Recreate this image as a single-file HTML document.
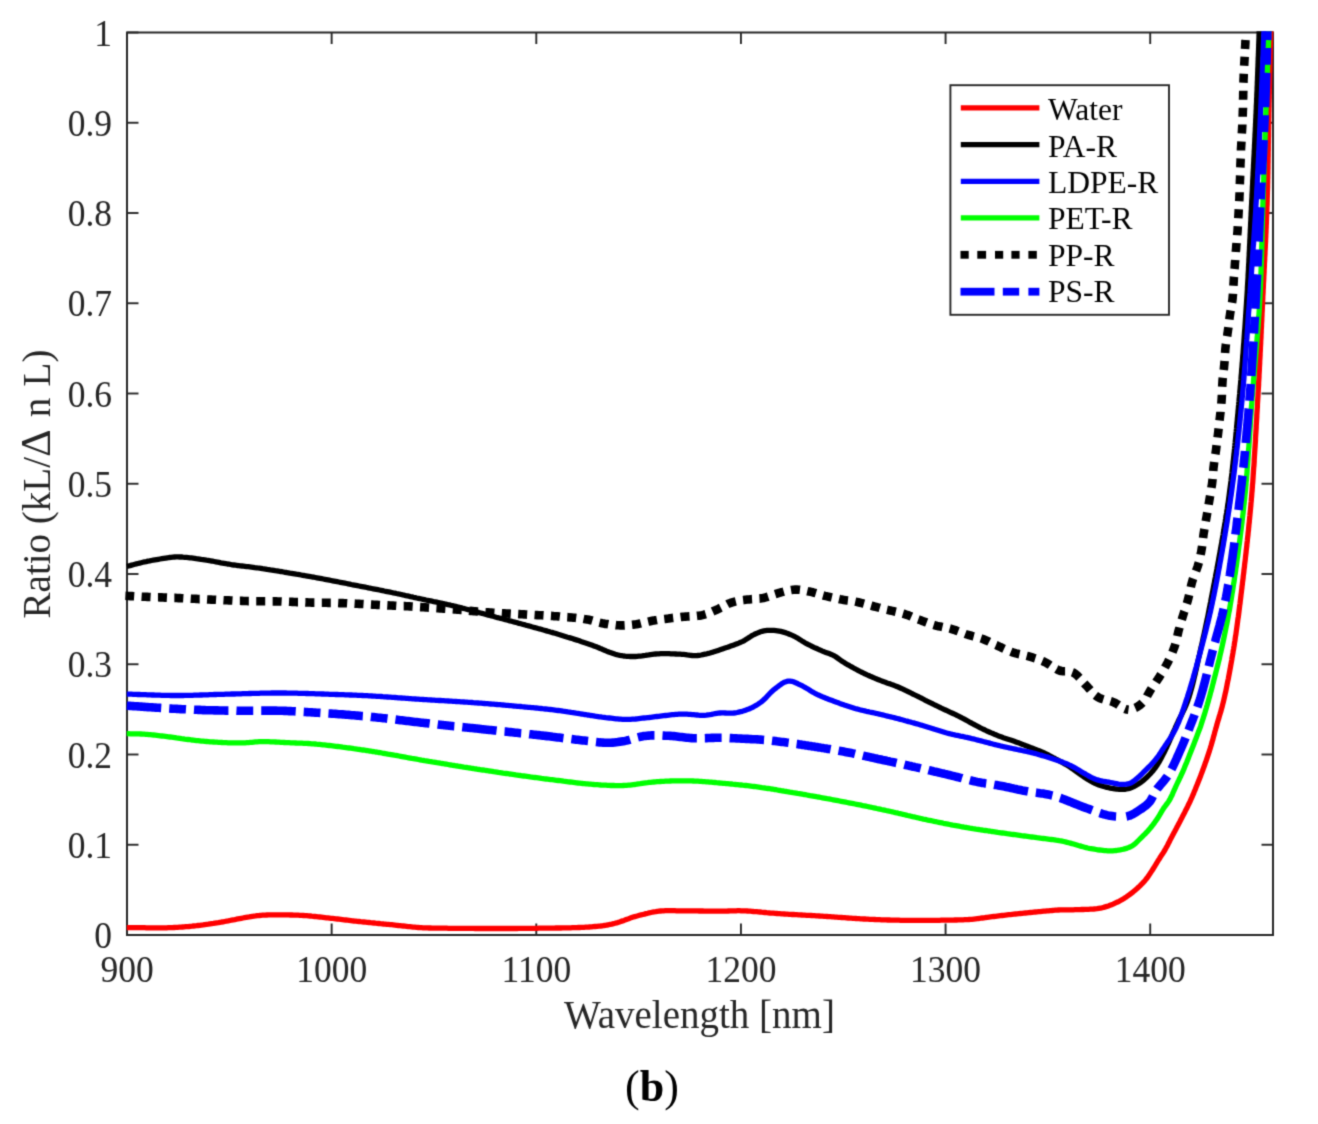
<!DOCTYPE html>
<html><head><meta charset="utf-8"><style>
html,body{margin:0;padding:0;background:#fff;overflow:hidden;width:1318px;height:1124px;}
svg{display:block;}
.t{font-family:"Liberation Serif",serif;font-size:35.5px;fill:#262626;}
.l{font-family:"Liberation Serif",serif;font-size:39px;fill:#262626;}
.g{font-family:"Liberation Serif",serif;font-size:32px;fill:#000;}
.c{font-family:"Liberation Serif",serif;font-size:44px;fill:#000;}
</style></head><body>
<svg width="1318" height="1124" viewBox="0 0 1318 1124">
<defs><filter id="bl" x="0" y="0" width="1318" height="1124" filterUnits="userSpaceOnUse" color-interpolation-filters="sRGB"><feConvolveMatrix order="3" kernelMatrix="0.02768 0.11101 0.02768 0.11101 0.44521 0.11101 0.02768 0.11101 0.02768" edgeMode="duplicate" preserveAlpha="true"/></filter><clipPath id="cp"><rect x="125.2" y="31.3" width="1149.0" height="904.9"/></clipPath></defs>
<g filter="url(#bl)"><rect x="0" y="0" width="1318" height="1124" fill="#fff"/>
<rect x="127.0" y="32.5" width="1146.0" height="902.5" fill="none" stroke="#262626" stroke-width="2"/>
<line x1="127.0" y1="935.00" x2="138.5" y2="935.00" stroke="#262626" stroke-width="1.9"/>
<line x1="1273.0" y1="935.00" x2="1261.5" y2="935.00" stroke="#262626" stroke-width="1.9"/>
<line x1="127.0" y1="844.75" x2="138.5" y2="844.75" stroke="#262626" stroke-width="1.9"/>
<line x1="1273.0" y1="844.75" x2="1261.5" y2="844.75" stroke="#262626" stroke-width="1.9"/>
<line x1="127.0" y1="754.50" x2="138.5" y2="754.50" stroke="#262626" stroke-width="1.9"/>
<line x1="1273.0" y1="754.50" x2="1261.5" y2="754.50" stroke="#262626" stroke-width="1.9"/>
<line x1="127.0" y1="664.25" x2="138.5" y2="664.25" stroke="#262626" stroke-width="1.9"/>
<line x1="1273.0" y1="664.25" x2="1261.5" y2="664.25" stroke="#262626" stroke-width="1.9"/>
<line x1="127.0" y1="574.00" x2="138.5" y2="574.00" stroke="#262626" stroke-width="1.9"/>
<line x1="1273.0" y1="574.00" x2="1261.5" y2="574.00" stroke="#262626" stroke-width="1.9"/>
<line x1="127.0" y1="483.75" x2="138.5" y2="483.75" stroke="#262626" stroke-width="1.9"/>
<line x1="1273.0" y1="483.75" x2="1261.5" y2="483.75" stroke="#262626" stroke-width="1.9"/>
<line x1="127.0" y1="393.50" x2="138.5" y2="393.50" stroke="#262626" stroke-width="1.9"/>
<line x1="1273.0" y1="393.50" x2="1261.5" y2="393.50" stroke="#262626" stroke-width="1.9"/>
<line x1="127.0" y1="303.25" x2="138.5" y2="303.25" stroke="#262626" stroke-width="1.9"/>
<line x1="1273.0" y1="303.25" x2="1261.5" y2="303.25" stroke="#262626" stroke-width="1.9"/>
<line x1="127.0" y1="213.00" x2="138.5" y2="213.00" stroke="#262626" stroke-width="1.9"/>
<line x1="1273.0" y1="213.00" x2="1261.5" y2="213.00" stroke="#262626" stroke-width="1.9"/>
<line x1="127.0" y1="122.75" x2="138.5" y2="122.75" stroke="#262626" stroke-width="1.9"/>
<line x1="1273.0" y1="122.75" x2="1261.5" y2="122.75" stroke="#262626" stroke-width="1.9"/>
<line x1="127.0" y1="32.50" x2="138.5" y2="32.50" stroke="#262626" stroke-width="1.9"/>
<line x1="1273.0" y1="32.50" x2="1261.5" y2="32.50" stroke="#262626" stroke-width="1.9"/>
<line x1="127.00" y1="935.0" x2="127.00" y2="923.5" stroke="#262626" stroke-width="1.9"/>
<line x1="127.00" y1="32.5" x2="127.00" y2="44.0" stroke="#262626" stroke-width="1.9"/>
<line x1="331.64" y1="935.0" x2="331.64" y2="923.5" stroke="#262626" stroke-width="1.9"/>
<line x1="331.64" y1="32.5" x2="331.64" y2="44.0" stroke="#262626" stroke-width="1.9"/>
<line x1="536.29" y1="935.0" x2="536.29" y2="923.5" stroke="#262626" stroke-width="1.9"/>
<line x1="536.29" y1="32.5" x2="536.29" y2="44.0" stroke="#262626" stroke-width="1.9"/>
<line x1="740.93" y1="935.0" x2="740.93" y2="923.5" stroke="#262626" stroke-width="1.9"/>
<line x1="740.93" y1="32.5" x2="740.93" y2="44.0" stroke="#262626" stroke-width="1.9"/>
<line x1="945.57" y1="935.0" x2="945.57" y2="923.5" stroke="#262626" stroke-width="1.9"/>
<line x1="945.57" y1="32.5" x2="945.57" y2="44.0" stroke="#262626" stroke-width="1.9"/>
<line x1="1150.21" y1="935.0" x2="1150.21" y2="923.5" stroke="#262626" stroke-width="1.9"/>
<line x1="1150.21" y1="32.5" x2="1150.21" y2="44.0" stroke="#262626" stroke-width="1.9"/>
<g clip-path="url(#cp)" fill="none" stroke-linejoin="round">
<path d="M126.8,927.6 L128.4,927.6 L130.0,927.6 L131.6,927.6 L133.2,927.6 L134.8,927.6 L136.4,927.7 L138.1,927.7 L139.7,927.7 L141.3,927.7 L143.0,927.7 L144.6,927.7 L146.3,927.8 L147.9,927.8 L149.5,927.8 L151.1,927.8 L152.8,927.8 L154.4,927.8 L156.0,927.8 L157.5,927.8 L159.1,927.8 L160.7,927.8 L162.2,927.8 L163.7,927.8 L165.2,927.8 L166.7,927.8 L168.2,927.7 L169.6,927.7 L171.0,927.7 L172.4,927.6 L174.2,927.5 L175.9,927.4 L177.7,927.3 L179.3,927.2 L181.0,927.1 L182.6,927.0 L184.2,926.9 L185.8,926.7 L187.4,926.6 L188.9,926.5 L190.4,926.3 L192.0,926.2 L193.5,926.0 L195.1,925.8 L196.6,925.7 L198.1,925.5 L199.7,925.3 L201.4,925.1 L203.1,924.9 L204.8,924.6 L206.6,924.4 L208.3,924.2 L210.0,923.9 L211.7,923.6 L213.4,923.4 L215.0,923.1 L216.7,922.8 L218.4,922.6 L220.0,922.3 L221.6,922.0 L223.2,921.8 L224.7,921.5 L226.5,921.2 L228.2,920.9 L229.9,920.5 L231.5,920.2 L233.2,919.9 L234.8,919.6 L236.4,919.2 L238.0,918.9 L239.6,918.6 L241.3,918.3 L242.9,918.0 L244.5,917.7 L246.1,917.4 L247.7,917.1 L249.2,916.9 L250.8,916.6 L252.4,916.3 L254.0,916.1 L255.6,915.9 L257.4,915.6 L259.2,915.5 L261.1,915.3 L262.4,915.2 L263.8,915.1 L265.3,915.1 L266.8,915.0 L268.4,914.9 L269.9,914.9 L271.6,914.9 L273.2,914.8 L274.9,914.8 L276.6,914.8 L278.3,914.8 L280.1,914.8 L281.8,914.8 L283.5,914.8 L285.3,914.9 L287.0,914.9 L288.7,914.9 L290.4,915.0 L292.0,915.0 L293.7,915.1 L295.3,915.1 L296.8,915.2 L298.3,915.2 L299.8,915.3 L301.6,915.4 L303.4,915.5 L305.1,915.6 L306.8,915.7 L308.4,915.9 L310.1,916.0 L311.7,916.2 L313.3,916.3 L314.8,916.5 L316.5,916.7 L318.1,916.9 L319.7,917.0 L321.4,917.2 L323.1,917.4 L324.9,917.6 L326.4,917.8 L327.9,917.9 L329.5,918.1 L331.1,918.3 L332.7,918.4 L334.3,918.6 L335.9,918.8 L337.5,919.0 L339.1,919.2 L340.8,919.4 L342.4,919.6 L344.1,919.8 L345.8,920.0 L347.4,920.2 L349.1,920.4 L350.8,920.6 L352.4,920.8 L354.1,921.0 L355.7,921.1 L357.4,921.3 L359.0,921.5 L360.6,921.7 L362.3,921.8 L363.9,922.0 L365.6,922.2 L367.2,922.4 L368.9,922.5 L370.5,922.7 L372.2,922.8 L373.9,923.0 L375.5,923.2 L377.2,923.3 L378.8,923.5 L380.5,923.7 L382.1,923.8 L383.7,924.0 L385.3,924.1 L386.9,924.3 L388.5,924.4 L390.1,924.6 L391.7,924.7 L393.2,924.9 L395.0,925.1 L396.7,925.3 L398.4,925.5 L400.1,925.6 L401.7,925.8 L403.3,926.0 L405.0,926.2 L406.6,926.4 L408.2,926.6 L409.9,926.7 L411.5,926.9 L413.1,927.1 L414.8,927.2 L416.5,927.4 L418.2,927.5 L420.0,927.6 L421.5,927.7 L423.0,927.8 L424.5,927.8 L426.0,927.9 L427.5,927.9 L429.0,928.0 L430.5,928.0 L432.0,928.1 L433.6,928.1 L435.1,928.1 L436.7,928.1 L438.3,928.2 L439.9,928.2 L441.5,928.2 L443.2,928.2 L444.9,928.2 L446.7,928.2 L448.4,928.3 L450.3,928.3 L452.2,928.3 L454.1,928.3 L455.3,928.3 L456.6,928.3 L457.9,928.3 L459.2,928.3 L460.5,928.4 L461.9,928.4 L463.2,928.4 L464.6,928.4 L466.1,928.4 L467.5,928.4 L469.0,928.4 L470.5,928.4 L472.0,928.4 L473.5,928.4 L475.0,928.5 L476.6,928.5 L478.1,928.5 L479.7,928.5 L481.3,928.5 L482.9,928.5 L484.5,928.5 L486.1,928.5 L487.7,928.5 L489.3,928.5 L491.0,928.5 L492.6,928.5 L494.2,928.5 L495.9,928.5 L497.5,928.5 L499.2,928.5 L500.8,928.5 L502.5,928.5 L504.1,928.5 L505.8,928.5 L507.4,928.5 L509.1,928.5 L510.7,928.5 L512.3,928.5 L513.9,928.5 L515.5,928.5 L517.1,928.5 L518.7,928.4 L520.3,928.4 L521.9,928.4 L523.4,928.4 L524.9,928.4 L526.5,928.4 L528.0,928.4 L529.5,928.4 L530.9,928.3 L532.4,928.3 L533.8,928.3 L535.5,928.3 L537.2,928.3 L538.9,928.2 L540.6,928.2 L542.3,928.2 L544.0,928.2 L545.7,928.2 L547.4,928.1 L549.1,928.1 L550.8,928.1 L552.5,928.1 L554.2,928.1 L555.9,928.0 L557.6,928.0 L559.3,928.0 L560.9,928.0 L562.6,927.9 L564.2,927.9 L565.9,927.9 L567.5,927.8 L569.1,927.8 L570.7,927.8 L572.3,927.7 L573.8,927.7 L575.4,927.6 L576.9,927.6 L578.4,927.5 L579.8,927.5 L581.3,927.4 L582.7,927.3 L584.1,927.3 L585.5,927.2 L586.8,927.1 L588.1,927.1 L589.4,927.0 L590.6,926.9 L591.8,926.8 L593.0,926.7 L595.1,926.5 L597.0,926.3 L598.9,926.1 L600.6,926.0 L602.3,925.8 L603.9,925.5 L605.5,925.3 L607.0,925.0 L608.6,924.8 L610.2,924.4 L611.8,924.1 L613.5,923.7 L615.0,923.3 L616.5,922.9 L618.0,922.4 L619.5,922.0 L621.0,921.4 L622.6,920.9 L624.1,920.4 L625.6,919.8 L627.1,919.2 L628.7,918.7 L630.2,918.1 L631.7,917.6 L633.2,917.1 L634.8,916.6 L636.3,916.2 L637.9,915.8 L639.5,915.3 L641.1,914.9 L642.8,914.5 L644.4,914.1 L646.0,913.6 L647.6,913.3 L649.2,912.9 L650.9,912.5 L652.5,912.2 L654.1,911.9 L655.7,911.7 L657.4,911.4 L659.0,911.2 L660.6,911.0 L662.2,910.9 L663.8,910.8 L665.3,910.7 L666.9,910.7 L668.4,910.7 L670.0,910.7 L671.6,910.7 L673.2,910.7 L674.8,910.7 L676.5,910.8 L678.2,910.8 L680.0,910.8 L681.8,910.8 L683.2,910.8 L684.7,910.8 L686.2,910.8 L687.7,910.8 L689.3,910.8 L690.9,910.9 L692.5,910.9 L694.2,910.9 L695.8,910.9 L697.5,910.9 L699.2,911.0 L700.9,911.0 L702.6,911.0 L704.3,911.1 L706.0,911.1 L707.6,911.1 L709.3,911.1 L710.9,911.1 L712.5,911.2 L714.1,911.2 L715.6,911.2 L717.1,911.2 L718.6,911.2 L720.0,911.2 L721.8,911.2 L723.5,911.2 L725.2,911.1 L726.8,911.1 L728.4,911.0 L729.9,910.9 L731.5,910.9 L733.0,910.8 L734.6,910.8 L736.1,910.8 L737.7,910.7 L739.4,910.7 L741.0,910.8 L742.8,910.8 L744.3,910.9 L745.8,910.9 L747.3,911.0 L748.8,911.1 L750.3,911.2 L751.9,911.3 L753.5,911.5 L755.1,911.6 L756.7,911.7 L758.3,911.9 L759.9,912.0 L761.6,912.2 L763.2,912.3 L764.9,912.5 L766.6,912.7 L768.3,912.8 L770.0,913.0 L771.7,913.1 L773.4,913.2 L775.2,913.4 L776.9,913.5 L778.4,913.6 L779.8,913.7 L781.3,913.8 L782.8,913.9 L784.4,914.0 L785.9,914.1 L787.4,914.2 L789.0,914.3 L790.5,914.4 L792.1,914.5 L793.7,914.5 L795.3,914.6 L796.8,914.7 L798.4,914.8 L800.0,914.9 L801.6,915.0 L803.2,915.1 L804.8,915.2 L806.5,915.3 L808.1,915.4 L809.7,915.4 L811.3,915.5 L812.9,915.6 L814.5,915.7 L816.1,915.8 L817.7,915.9 L819.2,916.0 L820.8,916.1 L822.4,916.2 L824.0,916.3 L825.6,916.4 L827.1,916.5 L828.7,916.6 L830.3,916.7 L831.9,916.8 L833.5,916.9 L835.2,917.1 L836.8,917.2 L838.4,917.3 L840.0,917.4 L841.6,917.5 L843.2,917.6 L844.8,917.7 L846.4,917.9 L848.0,918.0 L849.6,918.1 L851.2,918.2 L852.8,918.3 L854.3,918.4 L855.9,918.5 L857.4,918.6 L859.0,918.7 L860.5,918.8 L862.0,918.9 L863.6,919.0 L865.1,919.0 L866.5,919.1 L868.0,919.2 L869.7,919.3 L871.4,919.4 L873.1,919.4 L874.8,919.5 L876.5,919.6 L878.1,919.6 L879.7,919.7 L881.3,919.8 L883.0,919.8 L884.6,919.9 L886.1,919.9 L887.7,920.0 L889.3,920.0 L890.9,920.1 L892.5,920.1 L894.1,920.1 L895.7,920.2 L897.3,920.2 L898.9,920.2 L900.5,920.3 L902.1,920.3 L903.7,920.3 L905.4,920.3 L907.0,920.4 L908.6,920.4 L910.2,920.4 L911.8,920.4 L913.5,920.4 L915.1,920.4 L916.7,920.4 L918.3,920.4 L920.0,920.4 L921.6,920.4 L923.2,920.4 L924.9,920.4 L926.5,920.4 L928.1,920.4 L929.7,920.4 L931.4,920.4 L933.0,920.3 L934.7,920.3 L936.3,920.3 L937.9,920.3 L939.6,920.3 L941.2,920.2 L942.9,920.2 L944.6,920.2 L946.3,920.2 L948.1,920.1 L949.8,920.1 L951.5,920.1 L953.2,920.1 L954.9,920.0 L956.6,920.0 L958.3,919.9 L959.9,919.9 L961.6,919.8 L963.2,919.8 L964.7,919.7 L966.2,919.6 L967.7,919.6 L969.1,919.5 L970.5,919.4 L971.8,919.3 L973.8,919.1 L975.7,918.9 L977.4,918.7 L979.1,918.5 L980.7,918.2 L982.3,918.0 L983.9,917.8 L985.6,917.5 L987.3,917.3 L988.9,917.1 L990.5,916.9 L992.2,916.7 L993.8,916.5 L995.5,916.3 L997.1,916.1 L998.8,915.9 L1000.5,915.7 L1002.2,915.5 L1003.8,915.3 L1005.5,915.1 L1007.2,914.9 L1008.8,914.7 L1010.5,914.6 L1012.2,914.4 L1013.8,914.2 L1015.5,914.0 L1017.1,913.9 L1018.8,913.7 L1020.5,913.5 L1022.1,913.4 L1023.8,913.2 L1025.5,913.0 L1027.1,912.9 L1028.8,912.7 L1030.4,912.5 L1032.1,912.4 L1033.7,912.2 L1035.4,912.0 L1037.0,911.9 L1038.7,911.7 L1040.3,911.6 L1042.0,911.4 L1043.7,911.2 L1045.3,911.1 L1046.9,910.9 L1048.6,910.8 L1050.2,910.6 L1051.9,910.5 L1053.5,910.3 L1055.2,910.2 L1056.8,910.1 L1058.5,910.0 L1060.2,909.9 L1061.8,909.8 L1063.4,909.8 L1065.1,909.8 L1066.7,909.8 L1068.3,909.8 L1070.0,909.8 L1071.6,909.8 L1073.3,909.8 L1075.0,909.7 L1076.6,909.7 L1078.3,909.7 L1080.0,909.6 L1081.7,909.5 L1083.3,909.5 L1085.1,909.4 L1086.8,909.4 L1088.5,909.3 L1090.2,909.2 L1092.0,909.1 L1093.7,909.0 L1095.4,908.8 L1097.1,908.7 L1098.7,908.4 L1100.4,908.1 L1102.0,907.8 L1103.6,907.4 L1105.3,906.9 L1106.9,906.4 L1108.4,905.9 L1110.0,905.3 L1111.6,904.7 L1113.1,904.1 L1114.6,903.4 L1116.1,902.7 L1117.6,902.0 L1119.1,901.3 L1120.5,900.5 L1122.0,899.7 L1123.5,898.8 L1124.9,897.8 L1126.4,896.9 L1127.8,895.9 L1129.2,894.9 L1130.6,893.8 L1131.9,892.8 L1133.2,891.8 L1134.5,890.7 L1135.7,889.7 L1137.1,888.5 L1138.4,887.3 L1139.7,886.1 L1140.9,884.9 L1142.1,883.7 L1143.3,882.4 L1144.4,881.2 L1145.5,879.9 L1146.6,878.5 L1147.7,877.1 L1148.6,875.7 L1149.6,874.3 L1150.5,872.9 L1151.5,871.4 L1152.4,870.0 L1153.5,868.3 L1154.5,866.7 L1155.5,865.0 L1156.5,863.3 L1157.5,861.7 L1158.5,860.0 L1159.6,858.4 L1160.6,856.7 L1161.7,855.1 L1162.8,853.5 L1163.8,851.8 L1164.9,850.0 L1165.7,848.6 L1166.5,847.1 L1167.3,845.7 L1168.1,844.1 L1168.9,842.6 L1169.7,841.0 L1170.4,839.5 L1171.2,838.0 L1172.0,836.5 L1172.8,834.9 L1173.6,833.4 L1174.4,832.0 L1175.2,830.5 L1176.0,829.0 L1176.8,827.4 L1177.7,825.8 L1178.6,824.0 L1179.3,822.7 L1180.0,821.4 L1180.7,820.0 L1181.4,818.6 L1182.2,817.2 L1182.9,815.7 L1183.7,814.2 L1184.5,812.7 L1185.3,811.1 L1186.1,809.6 L1186.9,808.0 L1187.7,806.4 L1188.4,804.8 L1189.2,803.2 L1190.0,801.6 L1190.7,800.0 L1191.3,798.6 L1192.0,797.1 L1192.6,795.7 L1193.3,794.2 L1193.9,792.6 L1194.5,791.1 L1195.2,789.6 L1195.8,788.0 L1196.4,786.4 L1197.1,784.9 L1197.7,783.3 L1198.3,781.8 L1198.9,780.2 L1199.5,778.7 L1200.1,777.2 L1200.7,775.7 L1201.2,774.2 L1201.8,772.8 L1202.3,771.4 L1202.8,770.0 L1203.4,768.3 L1204.0,766.7 L1204.6,765.2 L1205.1,763.6 L1205.7,762.1 L1206.2,760.7 L1206.7,759.2 L1207.2,757.7 L1207.7,756.2 L1208.2,754.7 L1208.7,753.2 L1209.2,751.6 L1209.7,750.0 L1210.2,748.5 L1210.6,747.0 L1211.1,745.5 L1211.5,744.0 L1212.0,742.4 L1212.4,740.8 L1212.9,739.3 L1213.3,737.7 L1213.7,736.1 L1214.2,734.5 L1214.6,732.9 L1215.0,731.3 L1215.5,729.7 L1215.9,728.1 L1216.4,726.6 L1216.8,725.0 L1217.2,723.5 L1217.7,721.9 L1218.1,720.4 L1218.6,719.0 L1219.0,717.5 L1219.4,716.0 L1219.9,714.5 L1220.3,713.1 L1220.8,711.6 L1221.2,710.0 L1221.6,708.5 L1222.1,706.9 L1222.5,705.2 L1222.9,703.6 L1223.4,701.8 L1223.8,700.0 L1224.1,698.7 L1224.4,697.4 L1224.7,696.0 L1225.0,694.6 L1225.3,693.2 L1225.7,691.7 L1226.0,690.2 L1226.3,688.7 L1226.6,687.2 L1226.9,685.7 L1227.2,684.1 L1227.5,682.5 L1227.8,681.0 L1228.2,679.3 L1228.5,677.7 L1228.8,676.1 L1229.1,674.5 L1229.4,672.8 L1229.7,671.2 L1230.0,669.5 L1230.3,667.9 L1230.6,666.2 L1230.9,664.6 L1231.2,662.9 L1231.5,661.3 L1231.8,659.6 L1232.0,658.0 L1232.3,656.4 L1232.6,654.8 L1232.9,653.2 L1233.1,651.6 L1233.4,650.0 L1233.7,648.4 L1233.9,646.9 L1234.2,645.4 L1234.4,643.9 L1234.6,642.4 L1234.9,640.9 L1235.1,639.4 L1235.3,637.9 L1235.5,636.4 L1235.8,635.0 L1236.0,633.5 L1236.2,632.0 L1236.4,630.5 L1236.6,629.1 L1236.8,627.6 L1237.0,626.1 L1237.2,624.6 L1237.4,623.1 L1237.6,621.6 L1237.8,620.0 L1238.0,618.5 L1238.3,616.9 L1238.5,615.3 L1238.7,613.7 L1238.9,612.1 L1239.1,610.4 L1239.3,608.8 L1239.5,607.1 L1239.7,605.4 L1240.0,603.6 L1240.2,601.8 L1240.4,600.0 L1240.6,598.7 L1240.7,597.5 L1240.9,596.2 L1241.0,594.9 L1241.2,593.5 L1241.4,592.2 L1241.5,590.9 L1241.7,589.5 L1241.9,588.1 L1242.0,586.7 L1242.2,585.3 L1242.4,583.9 L1242.5,582.5 L1242.7,581.1 L1242.9,579.6 L1243.1,578.2 L1243.2,576.7 L1243.4,575.2 L1243.6,573.7 L1243.8,572.2 L1243.9,570.7 L1244.1,569.2 L1244.3,567.7 L1244.5,566.2 L1244.6,564.6 L1244.8,563.1 L1245.0,561.6 L1245.2,560.0 L1245.4,558.4 L1245.5,556.9 L1245.7,555.3 L1245.9,553.7 L1246.1,552.2 L1246.2,550.6 L1246.4,549.0 L1246.6,547.4 L1246.8,545.8 L1246.9,544.2 L1247.1,542.6 L1247.3,541.0 L1247.4,539.4 L1247.6,537.8 L1247.8,536.2 L1248.0,534.6 L1248.1,533.0 L1248.3,531.4 L1248.5,529.8 L1248.6,528.2 L1248.8,526.6 L1248.9,525.0 L1249.1,523.4 L1249.3,521.8 L1249.4,520.2 L1249.6,518.7 L1249.7,517.1 L1249.9,515.5 L1250.0,513.9 L1250.2,512.4 L1250.3,510.8 L1250.5,509.2 L1250.6,507.7 L1250.8,506.1 L1250.9,504.6 L1251.0,503.0 L1251.2,501.5 L1251.3,500.0 L1251.4,498.5 L1251.6,496.9 L1251.7,495.4 L1251.8,493.9 L1251.9,492.3 L1252.1,490.8 L1252.2,489.2 L1252.3,487.7 L1252.4,486.2 L1252.5,484.6 L1252.7,483.1 L1252.8,481.6 L1252.9,480.0 L1253.0,478.5 L1253.1,476.9 L1253.2,475.4 L1253.3,473.9 L1253.4,472.3 L1253.5,470.8 L1253.6,469.2 L1253.7,467.7 L1253.9,466.2 L1254.0,464.6 L1254.1,463.1 L1254.2,461.6 L1254.2,460.0 L1254.3,458.5 L1254.4,456.9 L1254.5,455.4 L1254.6,453.9 L1254.7,452.3 L1254.8,450.8 L1254.9,449.2 L1255.0,447.7 L1255.1,446.2 L1255.2,444.6 L1255.3,443.1 L1255.4,441.6 L1255.5,440.0 L1255.5,438.5 L1255.6,436.9 L1255.7,435.4 L1255.8,433.9 L1255.9,432.3 L1256.0,430.8 L1256.1,429.2 L1256.2,427.7 L1256.2,426.2 L1256.3,424.6 L1256.4,423.1 L1256.5,421.5 L1256.6,420.0 L1256.7,418.5 L1256.8,416.9 L1256.8,415.4 L1256.9,413.8 L1257.0,412.3 L1257.1,410.8 L1257.2,409.2 L1257.3,407.7 L1257.4,406.2 L1257.4,404.6 L1257.5,403.1 L1257.6,401.5 L1257.7,400.0 L1257.8,398.5 L1257.9,396.9 L1258.0,395.4 L1258.0,393.8 L1258.1,392.3 L1258.2,390.8 L1258.3,389.2 L1258.4,387.7 L1258.5,386.2 L1258.6,384.6 L1258.6,383.1 L1258.7,381.5 L1258.8,380.0 L1258.9,378.5 L1259.0,376.9 L1259.0,375.4 L1259.1,373.8 L1259.2,372.3 L1259.3,370.8 L1259.4,369.2 L1259.4,367.7 L1259.5,366.2 L1259.6,364.6 L1259.7,363.1 L1259.7,361.5 L1259.8,360.0 L1259.9,358.5 L1260.0,356.9 L1260.1,355.4 L1260.1,353.8 L1260.2,352.3 L1260.3,350.8 L1260.4,349.2 L1260.4,347.7 L1260.5,346.2 L1260.6,344.6 L1260.7,343.1 L1260.7,341.5 L1260.8,340.0 L1260.9,338.5 L1261.0,336.9 L1261.0,335.4 L1261.1,333.8 L1261.2,332.3 L1261.2,330.8 L1261.3,329.2 L1261.4,327.7 L1261.5,326.2 L1261.5,324.6 L1261.6,323.1 L1261.7,321.5 L1261.8,320.0 L1261.8,318.5 L1261.9,316.9 L1262.0,315.4 L1262.0,313.8 L1262.1,312.3 L1262.2,310.8 L1262.3,309.2 L1262.3,307.7 L1262.4,306.2 L1262.5,304.6 L1262.6,303.1 L1262.6,301.5 L1262.7,300.0 L1262.8,298.5 L1262.8,296.9 L1262.9,295.4 L1263.0,293.8 L1263.1,292.3 L1263.1,290.7 L1263.2,289.2 L1263.3,287.7 L1263.4,286.1 L1263.4,284.6 L1263.5,283.0 L1263.6,281.5 L1263.7,279.9 L1263.8,278.4 L1263.8,276.8 L1263.9,275.3 L1264.0,273.7 L1264.1,272.2 L1264.1,270.6 L1264.2,269.1 L1264.3,267.5 L1264.4,266.0 L1264.4,264.4 L1264.5,262.9 L1264.6,261.3 L1264.7,259.7 L1264.7,258.2 L1264.8,256.6 L1264.9,255.1 L1265.0,253.5 L1265.0,252.0 L1265.1,250.4 L1265.2,248.9 L1265.3,247.4 L1265.3,245.8 L1265.4,244.3 L1265.5,242.7 L1265.6,241.2 L1265.6,239.6 L1265.7,238.1 L1265.8,236.5 L1265.8,235.0 L1265.9,233.5 L1266.0,231.9 L1266.0,230.4 L1266.1,228.8 L1266.2,227.3 L1266.2,225.8 L1266.3,224.3 L1266.4,222.7 L1266.4,221.2 L1266.5,219.7 L1266.5,218.1 L1266.6,216.6 L1266.7,215.1 L1266.7,213.6 L1266.8,212.1 L1266.8,210.5 L1266.9,209.0 L1266.9,207.5 L1267.0,206.0 L1267.1,204.5 L1267.1,203.0 L1267.2,201.5 L1267.2,200.0 L1267.2,198.4 L1267.3,196.9 L1267.3,195.3 L1267.4,193.7 L1267.4,192.2 L1267.5,190.6 L1267.5,189.0 L1267.6,187.5 L1267.6,185.9 L1267.6,184.3 L1267.7,182.8 L1267.7,181.2 L1267.7,179.6 L1267.8,178.1 L1267.8,176.5 L1267.8,175.0 L1267.9,173.4 L1267.9,171.8 L1267.9,170.3 L1268.0,168.7 L1268.0,167.2 L1268.0,165.6 L1268.0,164.1 L1268.1,162.5 L1268.1,160.9 L1268.1,159.4 L1268.1,157.9 L1268.2,156.3 L1268.2,154.8 L1268.2,153.2 L1268.2,151.7 L1268.3,150.2 L1268.3,148.6 L1268.3,147.1 L1268.3,145.6 L1268.3,144.0 L1268.4,142.5 L1268.4,141.0 L1268.4,139.5 L1268.4,138.0 L1268.5,136.5 L1268.5,135.0 L1268.5,133.5 L1268.5,132.0 L1268.5,130.5 L1268.6,129.0 L1268.6,127.5 L1268.6,126.0 L1268.6,124.5 L1268.7,123.1 L1268.7,121.6 L1268.7,120.1 L1268.7,118.7 L1268.8,117.2 L1268.8,115.8 L1268.8,114.3 L1268.8,112.9 L1268.9,111.4 L1268.9,110.0 L1268.9,108.3 L1269.0,106.7 L1269.0,105.0 L1269.0,103.3 L1269.1,101.6 L1269.1,99.9 L1269.2,98.2 L1269.2,96.5 L1269.2,94.8 L1269.3,93.0 L1269.3,91.3 L1269.3,89.6 L1269.4,87.9 L1269.4,86.2 L1269.5,84.4 L1269.5,82.7 L1269.5,81.0 L1269.6,79.3 L1269.6,77.6 L1269.7,76.0 L1269.7,74.3 L1269.7,72.6 L1269.8,71.0 L1269.8,69.3 L1269.8,67.7 L1269.9,66.1 L1269.9,64.5 L1270.0,62.9 L1270.0,61.4 L1270.0,59.9 L1270.1,58.3 L1270.1,56.9 L1270.1,55.4 L1270.2,53.9 L1270.2,52.5 L1270.2,51.1 L1270.3,49.8 L1270.3,48.4 L1270.3,47.1 L1270.4,45.9 L1270.4,44.6 L1270.4,43.4 L1270.4,42.2 L1270.5,41.1 L1270.5,40.0 L1270.6,37.9 L1270.6,36.0 L1270.6,34.1 L1270.7,32.4 L1270.7,30.8 L1270.8,29.2 L1270.8,27.7 L1270.8,26.2 L1270.9,24.7 L1270.9,23.2 L1271.0,21.6 L1271.0,20.0" stroke="#ff0000" stroke-width="5.3"/>
<path d="M126.8,566.4 L128.4,566.0 L130.0,565.6 L131.6,565.1 L133.2,564.7 L134.8,564.3 L136.4,563.9 L137.9,563.5 L139.6,563.1 L141.2,562.7 L142.8,562.3 L144.5,561.9 L146.2,561.6 L147.9,561.2 L149.7,560.9 L151.4,560.5 L153.2,560.2 L154.9,559.9 L156.6,559.6 L158.3,559.3 L160.0,559.0 L161.9,558.7 L163.7,558.4 L165.6,558.1 L167.4,557.8 L169.2,557.5 L171.0,557.3 L172.8,557.1 L174.6,557.0 L176.3,556.9 L178.0,556.9 L179.7,557.0 L181.4,557.0 L183.0,557.2 L184.8,557.3 L186.5,557.4 L188.3,557.6 L189.8,557.8 L191.4,557.9 L193.0,558.1 L194.6,558.3 L196.2,558.6 L197.8,558.8 L199.5,559.1 L201.2,559.4 L202.9,559.6 L204.7,559.9 L206.5,560.2 L208.0,560.4 L209.5,560.7 L211.0,561.0 L212.6,561.2 L214.2,561.5 L215.8,561.8 L217.5,562.1 L219.1,562.4 L220.8,562.8 L222.5,563.1 L224.1,563.4 L225.8,563.7 L227.4,564.0 L229.1,564.2 L230.7,564.5 L232.2,564.8 L233.8,565.0 L235.5,565.2 L237.1,565.5 L238.7,565.7 L240.3,565.9 L241.9,566.0 L243.4,566.2 L245.0,566.4 L246.6,566.6 L248.2,566.7 L249.8,566.9 L251.4,567.1 L253.1,567.3 L254.8,567.6 L256.6,567.8 L258.0,568.0 L259.5,568.2 L261.0,568.4 L262.5,568.7 L264.0,568.9 L265.6,569.1 L267.1,569.4 L268.7,569.6 L270.3,569.9 L272.0,570.1 L273.6,570.4 L275.2,570.7 L276.9,570.9 L278.5,571.2 L280.2,571.5 L281.8,571.7 L283.5,572.0 L285.1,572.3 L286.7,572.5 L288.3,572.8 L289.9,573.1 L291.5,573.3 L293.0,573.6 L294.6,573.9 L296.3,574.2 L297.9,574.4 L299.5,574.7 L301.1,575.0 L302.7,575.3 L304.3,575.5 L305.9,575.8 L307.4,576.1 L309.0,576.4 L310.6,576.7 L312.2,577.0 L313.7,577.2 L315.3,577.5 L316.9,577.8 L318.5,578.1 L320.1,578.4 L321.7,578.7 L323.3,579.0 L324.9,579.3 L326.4,579.6 L328.0,579.9 L329.5,580.2 L331.0,580.5 L332.6,580.8 L334.1,581.1 L335.7,581.4 L337.2,581.7 L338.8,582.0 L340.3,582.3 L341.9,582.6 L343.4,582.9 L345.0,583.2 L346.6,583.5 L348.1,583.8 L349.7,584.1 L351.2,584.5 L352.8,584.8 L354.3,585.1 L355.9,585.4 L357.4,585.7 L359.0,586.0 L360.6,586.3 L362.1,586.6 L363.7,586.9 L365.3,587.2 L366.9,587.5 L368.4,587.9 L370.0,588.2 L371.6,588.5 L373.2,588.8 L374.8,589.1 L376.4,589.4 L377.9,589.7 L379.5,590.0 L381.1,590.3 L382.6,590.6 L384.2,591.0 L385.7,591.3 L387.2,591.6 L388.8,591.9 L390.2,592.2 L391.7,592.5 L393.2,592.8 L394.9,593.1 L396.5,593.5 L398.1,593.8 L399.7,594.2 L401.2,594.5 L402.8,594.9 L404.3,595.2 L405.8,595.6 L407.4,595.9 L408.9,596.2 L410.4,596.6 L412.0,596.9 L413.5,597.3 L415.1,597.6 L416.7,598.0 L418.3,598.3 L420.0,598.7 L421.5,599.0 L422.9,599.3 L424.4,599.6 L426.0,600.0 L427.5,600.3 L429.0,600.6 L430.6,600.9 L432.1,601.2 L433.7,601.6 L435.2,601.9 L436.8,602.2 L438.4,602.5 L440.0,602.9 L441.5,603.2 L443.1,603.5 L444.7,603.9 L446.3,604.2 L447.9,604.6 L449.4,604.9 L451.0,605.3 L452.5,605.6 L454.1,606.0 L455.7,606.4 L457.2,606.8 L458.8,607.2 L460.3,607.5 L461.9,607.9 L463.4,608.4 L465.0,608.8 L466.5,609.2 L468.1,609.6 L469.7,610.0 L471.2,610.4 L472.8,610.9 L474.3,611.3 L475.9,611.7 L477.4,612.1 L479.0,612.6 L480.5,613.0 L482.1,613.4 L483.6,613.8 L485.2,614.3 L486.7,614.7 L488.3,615.1 L489.9,615.5 L491.4,615.9 L493.0,616.3 L494.5,616.7 L496.1,617.2 L497.6,617.6 L499.2,618.0 L500.7,618.4 L502.3,618.8 L503.8,619.2 L505.4,619.6 L506.9,620.0 L508.5,620.4 L510.0,620.9 L511.6,621.3 L513.1,621.7 L514.7,622.1 L516.2,622.5 L517.8,622.9 L519.3,623.4 L520.9,623.8 L522.4,624.2 L524.0,624.6 L525.5,625.1 L527.1,625.5 L528.6,625.9 L530.2,626.3 L531.7,626.8 L533.3,627.2 L534.8,627.6 L536.4,628.0 L538.0,628.5 L539.5,628.9 L541.1,629.3 L542.6,629.8 L544.2,630.2 L545.7,630.6 L547.3,631.1 L548.8,631.5 L550.4,632.0 L551.9,632.4 L553.5,632.9 L555.1,633.3 L556.6,633.8 L558.2,634.3 L559.7,634.7 L561.3,635.2 L562.9,635.7 L564.4,636.2 L566.0,636.7 L567.6,637.2 L569.2,637.6 L570.8,638.1 L572.3,638.6 L573.9,639.1 L575.5,639.6 L577.1,640.1 L578.6,640.6 L580.2,641.1 L581.7,641.7 L583.2,642.2 L584.8,642.7 L586.3,643.2 L587.8,643.7 L589.2,644.2 L590.7,644.7 L592.3,645.3 L593.9,645.9 L595.5,646.5 L597.1,647.1 L598.7,647.8 L600.3,648.5 L601.9,649.1 L603.4,649.8 L605.0,650.4 L606.5,651.1 L608.0,651.7 L609.5,652.3 L611.0,652.8 L612.4,653.3 L613.9,653.8 L615.3,654.3 L616.7,654.7 L618.0,655.0 L619.9,655.4 L621.7,655.7 L623.5,656.0 L625.2,656.2 L626.8,656.3 L628.5,656.4 L630.3,656.5 L632.1,656.5 L634.0,656.5 L635.5,656.5 L637.1,656.4 L638.7,656.2 L640.3,656.1 L642.0,655.9 L643.7,655.6 L645.4,655.4 L647.1,655.1 L648.8,654.9 L650.5,654.6 L652.3,654.4 L654.0,654.2 L655.7,654.0 L657.4,653.9 L659.0,653.8 L660.7,653.7 L662.4,653.7 L664.1,653.7 L665.8,653.7 L667.5,653.7 L669.1,653.7 L670.8,653.8 L672.5,653.8 L674.1,653.9 L675.7,654.0 L677.3,654.1 L678.9,654.1 L680.4,654.2 L681.8,654.3 L683.7,654.4 L685.5,654.6 L687.2,654.9 L688.9,655.1 L690.5,655.3 L692.2,655.5 L693.8,655.6 L695.4,655.6 L697.4,655.5 L699.3,655.3 L701.1,655.0 L703.0,654.6 L704.9,654.2 L706.8,653.8 L708.4,653.4 L710.0,653.0 L711.5,652.5 L713.1,652.1 L714.8,651.5 L716.4,651.0 L718.2,650.4 L720.0,649.8 L721.4,649.3 L722.8,648.9 L724.3,648.3 L725.9,647.8 L727.5,647.3 L729.1,646.7 L730.7,646.1 L732.4,645.5 L734.0,644.9 L735.6,644.3 L737.2,643.7 L738.7,643.1 L740.1,642.5 L741.5,641.9 L742.8,641.3 L744.7,640.3 L746.3,639.3 L747.9,638.3 L749.5,637.2 L751.0,636.3 L752.5,635.3 L754.1,634.5 L755.7,633.8 L757.3,633.1 L758.9,632.4 L760.5,631.8 L762.1,631.3 L763.8,630.9 L765.5,630.6 L767.1,630.4 L768.8,630.3 L770.5,630.3 L772.3,630.3 L774.0,630.4 L775.8,630.6 L777.5,630.8 L779.2,631.1 L780.9,631.4 L782.6,631.9 L784.4,632.4 L786.1,632.9 L787.8,633.5 L789.4,634.2 L791.1,634.9 L792.8,635.6 L794.3,636.3 L795.9,637.2 L797.4,638.1 L798.9,639.0 L800.4,639.9 L801.9,640.9 L803.4,641.8 L804.9,642.7 L806.5,643.6 L808.0,644.4 L809.6,645.2 L811.2,646.0 L812.9,646.8 L814.5,647.6 L816.1,648.3 L817.8,649.0 L819.4,649.8 L820.9,650.4 L822.4,651.1 L824.1,651.8 L825.8,652.4 L827.5,653.0 L829.1,653.6 L830.7,654.2 L832.3,654.9 L833.8,655.6 L835.4,656.5 L836.8,657.5 L838.2,658.5 L839.7,659.6 L841.2,660.7 L842.9,661.8 L844.2,662.6 L845.5,663.4 L847.0,664.3 L848.5,665.1 L850.0,666.0 L851.6,666.9 L853.2,667.8 L854.8,668.7 L856.4,669.5 L858.0,670.4 L859.5,671.2 L861.1,672.0 L862.6,672.7 L864.1,673.5 L865.6,674.2 L867.1,674.9 L868.6,675.5 L870.2,676.2 L871.7,676.8 L873.2,677.5 L874.7,678.1 L876.2,678.8 L877.8,679.4 L879.3,680.0 L880.8,680.6 L882.4,681.2 L883.9,681.8 L885.4,682.3 L887.0,682.9 L888.5,683.4 L890.1,683.9 L891.6,684.5 L893.1,685.0 L894.6,685.6 L896.1,686.2 L897.6,686.8 L899.2,687.5 L900.8,688.2 L902.4,688.9 L903.9,689.6 L905.5,690.4 L907.0,691.1 L908.6,691.9 L910.2,692.7 L911.8,693.5 L913.5,694.3 L914.9,695.0 L916.3,695.7 L917.8,696.4 L919.3,697.2 L920.8,697.9 L922.3,698.7 L923.9,699.5 L925.4,700.3 L927.0,701.1 L928.5,701.8 L930.1,702.6 L931.7,703.4 L933.2,704.2 L934.8,705.0 L936.3,705.7 L937.8,706.4 L939.3,707.1 L940.8,707.9 L942.4,708.6 L943.9,709.3 L945.4,710.0 L946.9,710.7 L948.4,711.4 L949.9,712.1 L951.4,712.8 L953.0,713.5 L954.5,714.2 L956.0,714.9 L957.5,715.7 L959.0,716.4 L960.4,717.1 L961.9,717.9 L963.3,718.6 L964.8,719.4 L966.2,720.2 L967.7,721.0 L969.1,721.8 L970.6,722.6 L972.0,723.4 L973.4,724.1 L974.8,724.9 L976.3,725.7 L977.7,726.4 L979.1,727.1 L980.4,727.8 L981.8,728.5 L983.4,729.3 L985.0,730.0 L986.6,730.8 L988.1,731.5 L989.7,732.2 L991.3,732.9 L992.8,733.5 L994.3,734.2 L995.8,734.8 L997.2,735.4 L998.6,736.0 L1000.0,736.5 L1001.7,737.1 L1003.3,737.7 L1004.9,738.2 L1006.4,738.7 L1008.0,739.2 L1009.6,739.7 L1011.4,740.3 L1012.8,740.8 L1014.3,741.3 L1015.9,741.9 L1017.5,742.5 L1019.2,743.1 L1020.9,743.8 L1022.6,744.4 L1024.2,745.1 L1025.9,745.7 L1027.5,746.3 L1029.1,746.9 L1030.5,747.5 L1031.9,748.0 L1033.9,748.8 L1035.7,749.4 L1037.4,750.1 L1039.1,750.8 L1040.8,751.5 L1042.5,752.2 L1044.2,753.0 L1046.0,753.8 L1047.7,754.7 L1049.4,755.6 L1051.2,756.5 L1053.0,757.5 L1054.4,758.2 L1055.8,759.0 L1057.2,759.7 L1058.6,760.5 L1060.1,761.3 L1061.6,762.1 L1063.1,763.0 L1064.7,763.9 L1066.3,764.8 L1068.0,765.8 L1069.2,766.5 L1070.4,767.3 L1071.7,768.2 L1073.0,769.1 L1074.3,770.0 L1075.7,771.0 L1077.1,772.0 L1078.5,773.0 L1079.9,774.0 L1081.3,775.0 L1082.8,776.0 L1084.2,777.0 L1085.6,778.0 L1087.1,778.9 L1088.5,779.8 L1090.0,780.7 L1091.4,781.5 L1092.8,782.3 L1094.2,783.0 L1095.6,783.6 L1097.2,784.3 L1098.8,784.9 L1100.4,785.4 L1102.1,786.0 L1103.7,786.5 L1105.4,786.9 L1107.0,787.4 L1108.7,787.7 L1110.3,788.1 L1111.8,788.4 L1113.4,788.6 L1114.9,788.9 L1116.3,789.0 L1117.7,789.2 L1119.0,789.3 L1121.1,789.4 L1123.0,789.4 L1124.8,789.3 L1126.5,789.0 L1128.3,788.7 L1130.0,788.2 L1131.6,787.6 L1133.2,786.9 L1134.8,786.1 L1136.3,785.2 L1137.9,784.3 L1139.4,783.3 L1140.8,782.3 L1142.4,781.1 L1143.9,779.9 L1145.4,778.6 L1146.8,777.3 L1148.2,775.9 L1149.6,774.5 L1150.8,773.2 L1151.9,771.9 L1153.1,770.6 L1154.2,769.2 L1155.3,767.8 L1156.3,766.3 L1157.4,764.7 L1158.2,763.4 L1159.0,762.1 L1159.8,760.7 L1160.6,759.3 L1161.4,757.8 L1162.1,756.4 L1162.9,754.8 L1163.7,753.3 L1164.5,751.7 L1165.3,750.0 L1165.9,748.7 L1166.6,747.4 L1167.2,746.0 L1167.8,744.6 L1168.5,743.2 L1169.2,741.7 L1169.8,740.2 L1170.5,738.7 L1171.1,737.2 L1171.8,735.6 L1172.5,734.1 L1173.1,732.6 L1173.8,731.0 L1174.5,729.5 L1175.2,728.0 L1175.8,726.5 L1176.5,725.0 L1177.2,723.5 L1177.9,722.1 L1178.5,720.7 L1179.2,719.3 L1179.9,717.9 L1180.6,716.6 L1181.3,715.2 L1182.0,713.8 L1182.7,712.4 L1183.4,711.0 L1184.1,709.5 L1184.8,708.1 L1185.4,706.6 L1186.1,705.0 L1186.7,703.4 L1187.4,701.7 L1188.0,700.0 L1188.4,698.7 L1188.9,697.5 L1189.3,696.1 L1189.7,694.8 L1190.1,693.4 L1190.5,692.0 L1190.9,690.6 L1191.3,689.2 L1191.7,687.7 L1192.1,686.2 L1192.5,684.7 L1192.9,683.2 L1193.3,681.6 L1193.7,680.1 L1194.0,678.5 L1194.4,676.9 L1194.8,675.4 L1195.2,673.8 L1195.5,672.2 L1195.9,670.6 L1196.3,669.0 L1196.6,667.4 L1197.0,665.8 L1197.3,664.1 L1197.7,662.5 L1198.0,660.9 L1198.4,659.4 L1198.7,657.8 L1199.1,656.2 L1199.5,654.6 L1199.8,653.1 L1200.2,651.5 L1200.5,650.0 L1200.8,648.5 L1201.2,647.0 L1201.5,645.5 L1201.9,644.1 L1202.2,642.6 L1202.5,641.2 L1202.8,639.7 L1203.1,638.3 L1203.5,636.8 L1203.8,635.4 L1204.1,634.0 L1204.4,632.6 L1204.7,631.1 L1205.0,629.7 L1205.3,628.3 L1205.6,626.8 L1205.9,625.4 L1206.2,623.9 L1206.5,622.4 L1206.8,621.0 L1207.1,619.5 L1207.5,618.0 L1207.8,616.4 L1208.1,614.9 L1208.4,613.3 L1208.7,611.8 L1209.0,610.2 L1209.3,608.5 L1209.7,606.9 L1210.0,605.2 L1210.3,603.5 L1210.7,601.8 L1211.0,600.0 L1211.2,598.7 L1211.5,597.5 L1211.7,596.2 L1212.0,594.9 L1212.2,593.5 L1212.5,592.2 L1212.8,590.9 L1213.0,589.5 L1213.3,588.1 L1213.5,586.7 L1213.8,585.3 L1214.1,583.9 L1214.4,582.5 L1214.6,581.1 L1214.9,579.6 L1215.2,578.2 L1215.5,576.7 L1215.7,575.2 L1216.0,573.7 L1216.3,572.3 L1216.6,570.8 L1216.9,569.2 L1217.1,567.7 L1217.4,566.2 L1217.7,564.7 L1218.0,563.1 L1218.3,561.6 L1218.6,560.0 L1218.8,558.5 L1219.1,556.9 L1219.4,555.3 L1219.7,553.8 L1220.0,552.2 L1220.3,550.6 L1220.5,549.0 L1220.8,547.4 L1221.1,545.8 L1221.4,544.2 L1221.7,542.7 L1222.0,541.1 L1222.2,539.5 L1222.5,537.9 L1222.8,536.3 L1223.1,534.6 L1223.3,533.0 L1223.6,531.4 L1223.9,529.8 L1224.1,528.2 L1224.4,526.6 L1224.7,525.0 L1224.9,523.4 L1225.2,521.9 L1225.4,520.3 L1225.7,518.7 L1225.9,517.1 L1226.2,515.5 L1226.4,513.9 L1226.7,512.4 L1226.9,510.8 L1227.2,509.2 L1227.4,507.7 L1227.6,506.1 L1227.8,504.6 L1228.1,503.1 L1228.3,501.5 L1228.5,500.0 L1228.7,498.5 L1228.9,497.0 L1229.1,495.5 L1229.3,494.0 L1229.5,492.4 L1229.7,490.9 L1229.9,489.4 L1230.1,487.9 L1230.3,486.4 L1230.5,484.9 L1230.7,483.4 L1230.9,481.8 L1231.1,480.3 L1231.2,478.8 L1231.4,477.3 L1231.6,475.8 L1231.8,474.3 L1232.0,472.8 L1232.1,471.3 L1232.3,469.7 L1232.5,468.2 L1232.6,466.7 L1232.8,465.2 L1233.0,463.7 L1233.1,462.2 L1233.3,460.6 L1233.5,459.1 L1233.6,457.6 L1233.8,456.1 L1233.9,454.6 L1234.1,453.1 L1234.3,451.6 L1234.4,450.0 L1234.6,448.5 L1234.7,447.0 L1234.9,445.5 L1235.0,444.0 L1235.2,442.5 L1235.3,440.9 L1235.5,439.4 L1235.6,437.9 L1235.8,436.4 L1235.9,434.9 L1236.0,433.4 L1236.2,431.8 L1236.3,430.3 L1236.5,428.8 L1236.6,427.3 L1236.7,425.8 L1236.9,424.3 L1237.0,422.7 L1237.2,421.2 L1237.3,419.7 L1237.4,418.2 L1237.6,416.7 L1237.7,415.2 L1237.9,413.6 L1238.0,412.1 L1238.1,410.6 L1238.3,409.1 L1238.4,407.6 L1238.5,406.1 L1238.7,404.5 L1238.8,403.0 L1239.0,401.5 L1239.1,400.0 L1239.2,398.5 L1239.4,396.9 L1239.5,395.4 L1239.7,393.8 L1239.8,392.3 L1239.9,390.8 L1240.1,389.2 L1240.2,387.7 L1240.3,386.2 L1240.5,384.6 L1240.6,383.1 L1240.7,381.5 L1240.9,380.0 L1241.0,378.5 L1241.1,376.9 L1241.2,375.4 L1241.4,373.9 L1241.5,372.3 L1241.6,370.8 L1241.7,369.2 L1241.9,367.7 L1242.0,366.2 L1242.1,364.6 L1242.2,363.1 L1242.4,361.6 L1242.5,360.0 L1242.6,358.5 L1242.7,356.9 L1242.8,355.4 L1243.0,353.9 L1243.1,352.3 L1243.2,350.8 L1243.3,349.2 L1243.4,347.7 L1243.5,346.2 L1243.6,344.6 L1243.8,343.1 L1243.9,341.6 L1244.0,340.0 L1244.1,338.5 L1244.2,336.9 L1244.3,335.4 L1244.4,333.9 L1244.5,332.3 L1244.6,330.8 L1244.8,329.2 L1244.9,327.7 L1245.0,326.2 L1245.1,324.6 L1245.2,323.1 L1245.3,321.5 L1245.4,320.0 L1245.5,318.5 L1245.6,316.9 L1245.7,315.4 L1245.8,313.9 L1245.9,312.3 L1246.0,310.8 L1246.1,309.2 L1246.2,307.7 L1246.3,306.2 L1246.4,304.6 L1246.5,303.1 L1246.6,301.5 L1246.7,300.0 L1246.8,298.5 L1246.9,296.9 L1247.0,295.4 L1247.1,293.8 L1247.2,292.3 L1247.3,290.8 L1247.4,289.2 L1247.4,287.7 L1247.5,286.1 L1247.6,284.6 L1247.7,283.0 L1247.8,281.5 L1247.9,279.9 L1248.0,278.4 L1248.1,276.8 L1248.1,275.3 L1248.2,273.7 L1248.3,272.2 L1248.4,270.6 L1248.5,269.1 L1248.5,267.5 L1248.6,266.0 L1248.7,264.4 L1248.8,262.9 L1248.9,261.3 L1248.9,259.8 L1249.0,258.2 L1249.1,256.7 L1249.2,255.1 L1249.2,253.5 L1249.3,252.0 L1249.4,250.5 L1249.5,248.9 L1249.5,247.4 L1249.6,245.8 L1249.7,244.3 L1249.8,242.7 L1249.8,241.2 L1249.9,239.6 L1250.0,238.1 L1250.1,236.5 L1250.1,235.0 L1250.2,233.5 L1250.3,231.9 L1250.3,230.4 L1250.4,228.8 L1250.5,227.3 L1250.6,225.8 L1250.6,224.2 L1250.7,222.7 L1250.8,221.2 L1250.9,219.7 L1250.9,218.1 L1251.0,216.6 L1251.1,215.1 L1251.1,213.6 L1251.2,212.1 L1251.3,210.5 L1251.4,209.0 L1251.4,207.5 L1251.5,206.0 L1251.6,204.5 L1251.7,203.0 L1251.7,201.5 L1251.8,200.0 L1251.9,198.4 L1252.0,196.9 L1252.0,195.3 L1252.1,193.7 L1252.2,192.2 L1252.3,190.6 L1252.4,189.0 L1252.4,187.5 L1252.5,185.9 L1252.6,184.3 L1252.7,182.8 L1252.7,181.2 L1252.8,179.6 L1252.9,178.1 L1253.0,176.5 L1253.1,174.9 L1253.1,173.4 L1253.2,171.8 L1253.3,170.3 L1253.4,168.7 L1253.5,167.2 L1253.5,165.6 L1253.6,164.0 L1253.7,162.5 L1253.8,160.9 L1253.8,159.4 L1253.9,157.9 L1254.0,156.3 L1254.1,154.8 L1254.2,153.2 L1254.2,151.7 L1254.3,150.2 L1254.4,148.6 L1254.5,147.1 L1254.5,145.6 L1254.6,144.0 L1254.7,142.5 L1254.8,141.0 L1254.8,139.5 L1254.9,138.0 L1255.0,136.5 L1255.0,135.0 L1255.1,133.5 L1255.2,132.0 L1255.3,130.5 L1255.3,129.0 L1255.4,127.5 L1255.5,126.0 L1255.5,124.5 L1255.6,123.1 L1255.7,121.6 L1255.7,120.1 L1255.8,118.7 L1255.9,117.2 L1255.9,115.8 L1256.0,114.3 L1256.1,112.9 L1256.1,111.4 L1256.2,110.0 L1256.3,108.3 L1256.3,106.7 L1256.4,105.0 L1256.5,103.3 L1256.6,101.6 L1256.6,99.9 L1256.7,98.2 L1256.8,96.5 L1256.8,94.8 L1256.9,93.0 L1257.0,91.3 L1257.1,89.6 L1257.1,87.9 L1257.2,86.2 L1257.3,84.4 L1257.3,82.7 L1257.4,81.0 L1257.5,79.3 L1257.5,77.6 L1257.6,76.0 L1257.7,74.3 L1257.7,72.6 L1257.8,71.0 L1257.8,69.3 L1257.9,67.7 L1258.0,66.1 L1258.0,64.5 L1258.1,62.9 L1258.1,61.4 L1258.2,59.9 L1258.2,58.4 L1258.3,56.9 L1258.4,55.4 L1258.4,54.0 L1258.5,52.5 L1258.5,51.1 L1258.6,49.8 L1258.6,48.4 L1258.7,47.1 L1258.7,45.9 L1258.7,44.6 L1258.8,43.4 L1258.8,42.2 L1258.9,41.1 L1258.9,40.0 L1259.0,37.9 L1259.0,36.0 L1259.1,34.1 L1259.1,32.4 L1259.2,30.8 L1259.2,29.2 L1259.3,27.7 L1259.3,26.2 L1259.4,24.7 L1259.4,23.2 L1259.5,21.6 L1259.5,20.0" stroke="#000" stroke-width="5.3"/>
<path d="M126.8,694.1 L128.4,694.1 L129.9,694.2 L131.5,694.2 L133.1,694.3 L134.7,694.3 L136.2,694.4 L137.8,694.5 L139.4,694.5 L141.0,694.6 L142.5,694.6 L144.1,694.7 L145.7,694.7 L147.3,694.8 L148.8,694.9 L150.4,694.9 L152.0,695.0 L153.6,695.0 L155.1,695.1 L156.7,695.1 L158.3,695.2 L159.9,695.2 L161.4,695.3 L163.0,695.3 L164.5,695.3 L166.1,695.4 L167.7,695.4 L169.2,695.4 L170.8,695.5 L172.3,695.5 L173.8,695.5 L175.4,695.5 L176.9,695.5 L178.5,695.5 L180.1,695.5 L181.7,695.5 L183.2,695.5 L184.8,695.4 L186.4,695.4 L187.9,695.4 L189.5,695.3 L191.0,695.3 L192.6,695.3 L194.1,695.2 L195.6,695.2 L197.2,695.1 L198.7,695.1 L200.2,695.0 L201.8,695.0 L203.3,694.9 L204.9,694.9 L206.4,694.8 L208.0,694.8 L209.5,694.7 L211.1,694.6 L212.7,694.6 L214.3,694.5 L215.9,694.5 L217.5,694.4 L219.1,694.4 L220.8,694.3 L222.4,694.3 L223.9,694.3 L225.4,694.2 L226.9,694.2 L228.5,694.1 L230.0,694.1 L231.6,694.0 L233.2,694.0 L234.7,694.0 L236.3,693.9 L237.9,693.9 L239.5,693.8 L241.1,693.8 L242.7,693.7 L244.4,693.7 L246.0,693.6 L247.6,693.6 L249.2,693.5 L250.8,693.5 L252.5,693.4 L254.1,693.4 L255.7,693.4 L257.3,693.3 L259.0,693.3 L260.6,693.2 L262.2,693.2 L263.8,693.2 L265.4,693.1 L267.0,693.1 L268.5,693.1 L270.1,693.1 L271.7,693.0 L273.2,693.0 L274.8,693.0 L276.3,693.0 L277.8,693.0 L279.3,693.0 L281.0,693.0 L282.6,693.0 L284.2,693.0 L285.8,693.0 L287.5,693.1 L289.1,693.1 L290.7,693.1 L292.2,693.1 L293.8,693.2 L295.4,693.2 L297.0,693.2 L298.5,693.3 L300.1,693.3 L301.6,693.4 L303.2,693.4 L304.7,693.4 L306.3,693.5 L307.8,693.5 L309.4,693.6 L310.9,693.6 L312.5,693.7 L314.0,693.7 L315.6,693.8 L317.1,693.8 L318.7,693.9 L320.2,693.9 L321.8,694.0 L323.3,694.0 L324.9,694.1 L326.5,694.1 L328.0,694.2 L329.6,694.3 L331.2,694.3 L332.7,694.4 L334.3,694.4 L335.8,694.5 L337.4,694.5 L339.0,694.6 L340.5,694.6 L342.1,694.7 L343.6,694.7 L345.2,694.8 L346.8,694.8 L348.3,694.9 L349.9,695.0 L351.4,695.0 L353.0,695.1 L354.6,695.1 L356.1,695.2 L357.7,695.3 L359.3,695.4 L360.9,695.4 L362.4,695.5 L364.0,695.6 L365.6,695.7 L367.2,695.7 L368.8,695.8 L370.4,695.9 L371.9,696.0 L373.4,696.1 L375.0,696.2 L376.5,696.3 L378.1,696.3 L379.6,696.4 L381.1,696.5 L382.7,696.7 L384.3,696.8 L385.8,696.9 L387.4,697.0 L388.9,697.1 L390.5,697.2 L392.1,697.3 L393.6,697.4 L395.2,697.5 L396.8,697.6 L398.3,697.8 L399.9,697.9 L401.5,698.0 L403.0,698.1 L404.6,698.2 L406.1,698.3 L407.7,698.4 L409.3,698.6 L410.8,698.7 L412.3,698.8 L413.9,698.9 L415.4,699.0 L417.0,699.1 L418.5,699.2 L420.0,699.3 L421.6,699.4 L423.2,699.5 L424.8,699.6 L426.4,699.7 L428.0,699.8 L429.5,699.9 L431.1,700.0 L432.7,700.1 L434.3,700.2 L435.8,700.3 L437.4,700.4 L439.0,700.5 L440.5,700.5 L442.1,700.6 L443.7,700.7 L445.2,700.8 L446.8,700.9 L448.3,701.0 L449.9,701.1 L451.4,701.2 L453.0,701.3 L454.6,701.4 L456.1,701.5 L457.7,701.6 L459.2,701.7 L460.8,701.8 L462.4,701.9 L463.9,702.0 L465.5,702.1 L467.1,702.2 L468.6,702.3 L470.2,702.4 L471.8,702.5 L473.3,702.7 L474.9,702.8 L476.5,702.9 L478.1,703.0 L479.6,703.1 L481.2,703.2 L482.8,703.4 L484.3,703.5 L485.9,703.6 L487.5,703.7 L489.0,703.9 L490.6,704.0 L492.2,704.1 L493.7,704.2 L495.3,704.4 L496.9,704.5 L498.4,704.6 L500.0,704.7 L501.6,704.9 L503.2,705.0 L504.7,705.1 L506.3,705.3 L507.9,705.4 L509.4,705.6 L511.0,705.7 L512.6,705.8 L514.1,706.0 L515.7,706.1 L517.3,706.3 L518.9,706.4 L520.4,706.5 L522.0,706.7 L523.6,706.8 L525.2,707.0 L526.7,707.1 L528.3,707.3 L529.9,707.4 L531.5,707.6 L533.0,707.7 L534.6,707.9 L536.2,708.0 L537.7,708.2 L539.3,708.4 L540.9,708.5 L542.5,708.7 L544.0,708.8 L545.6,709.0 L547.2,709.2 L548.7,709.4 L550.3,709.5 L551.9,709.7 L553.5,709.9 L555.0,710.1 L556.6,710.3 L558.2,710.5 L559.8,710.7 L561.4,710.9 L563.0,711.2 L564.6,711.4 L566.3,711.6 L567.9,711.9 L569.5,712.1 L571.2,712.4 L572.8,712.6 L574.5,712.9 L576.1,713.2 L577.8,713.4 L579.4,713.7 L581.0,714.0 L582.6,714.2 L584.2,714.5 L585.8,714.7 L587.4,715.0 L589.0,715.2 L590.5,715.5 L592.1,715.7 L593.6,715.9 L595.0,716.2 L596.5,716.4 L598.0,716.6 L599.4,716.8 L600.7,716.9 L602.1,717.1 L604.0,717.3 L605.8,717.6 L607.6,717.8 L609.4,718.0 L611.1,718.2 L612.7,718.4 L614.4,718.6 L616.0,718.8 L617.6,718.9 L619.2,719.1 L620.8,719.2 L622.4,719.3 L623.9,719.3 L625.5,719.4 L627.1,719.4 L628.9,719.4 L630.6,719.3 L632.2,719.2 L633.9,719.1 L635.5,719.0 L637.2,718.8 L638.8,718.6 L640.5,718.4 L642.2,718.2 L643.9,718.0 L645.7,717.8 L647.6,717.6 L649.0,717.5 L650.5,717.3 L652.1,717.1 L653.7,716.9 L655.3,716.7 L656.9,716.5 L658.6,716.3 L660.3,716.1 L662.0,715.9 L663.7,715.7 L665.5,715.5 L667.2,715.3 L668.9,715.1 L670.6,714.9 L672.3,714.7 L673.9,714.6 L675.6,714.4 L677.2,714.3 L678.8,714.2 L680.3,714.1 L681.8,714.1 L683.6,714.1 L685.3,714.1 L687.0,714.2 L688.7,714.3 L690.4,714.4 L692.1,714.6 L693.7,714.7 L695.3,714.9 L696.9,715.0 L698.5,715.2 L700.0,715.3 L701.5,715.3 L703.0,715.3 L704.5,715.3 L706.4,715.2 L708.2,714.9 L709.9,714.7 L711.6,714.4 L713.3,714.0 L715.0,713.7 L716.7,713.4 L718.3,713.2 L720.0,713.0 L721.8,712.9 L723.5,712.9 L725.2,713.0 L726.9,713.1 L728.6,713.2 L730.3,713.2 L732.0,713.1 L733.7,713.0 L735.4,712.8 L737.1,712.5 L738.8,712.1 L740.6,711.7 L742.3,711.3 L743.9,710.8 L745.6,710.2 L747.3,709.6 L748.9,709.0 L750.4,708.3 L752.0,707.6 L753.5,706.8 L755.0,705.9 L756.6,705.1 L758.1,704.1 L759.5,703.1 L761.0,702.1 L762.3,701.1 L763.5,700.0 L764.8,698.8 L766.0,697.6 L767.2,696.3 L768.4,695.0 L769.6,693.7 L770.8,692.5 L772.1,691.3 L773.3,690.1 L774.6,689.1 L776.1,688.0 L777.6,686.8 L779.1,685.7 L780.6,684.6 L782.1,683.5 L783.6,682.7 L785.2,681.9 L786.7,681.4 L788.3,681.1 L790.0,681.1 L791.7,681.3 L793.4,681.8 L795.1,682.5 L796.8,683.2 L798.5,684.1 L800.2,684.9 L801.9,685.7 L803.4,686.5 L804.9,687.3 L806.4,688.2 L807.9,689.1 L809.4,690.0 L810.9,691.0 L812.4,691.9 L814.0,692.8 L815.6,693.7 L817.0,694.4 L818.4,695.0 L819.9,695.7 L821.4,696.3 L822.8,697.0 L824.4,697.6 L825.9,698.2 L827.4,698.8 L829.0,699.4 L830.6,700.0 L832.2,700.6 L833.8,701.2 L835.2,701.7 L836.7,702.3 L838.2,702.8 L839.7,703.4 L841.2,703.9 L842.7,704.4 L844.2,705.0 L845.8,705.5 L847.3,706.0 L848.9,706.5 L850.4,707.0 L852.0,707.5 L853.5,708.0 L855.1,708.5 L856.6,708.9 L858.2,709.3 L859.8,709.8 L861.4,710.2 L863.1,710.5 L864.7,710.9 L866.3,711.3 L867.9,711.6 L869.6,712.0 L871.2,712.3 L872.8,712.6 L874.4,713.0 L876.1,713.4 L877.7,713.7 L879.3,714.1 L880.9,714.5 L882.6,714.9 L884.2,715.3 L885.8,715.7 L887.4,716.1 L889.1,716.5 L890.7,716.9 L892.3,717.3 L894.0,717.7 L895.6,718.1 L897.2,718.5 L898.8,718.9 L900.5,719.4 L902.1,719.8 L903.7,720.2 L905.4,720.7 L907.0,721.1 L908.6,721.6 L910.3,722.0 L911.9,722.5 L913.5,722.9 L915.1,723.4 L916.8,723.8 L918.4,724.3 L920.0,724.8 L921.7,725.2 L923.3,725.7 L924.9,726.2 L926.5,726.7 L928.1,727.2 L929.8,727.7 L931.4,728.2 L933.0,728.7 L934.6,729.3 L936.2,729.8 L937.9,730.3 L939.5,730.8 L941.1,731.3 L942.7,731.8 L944.3,732.3 L946.0,732.8 L947.6,733.2 L949.2,733.6 L950.8,734.0 L952.4,734.4 L954.0,734.7 L955.6,735.1 L957.2,735.4 L958.8,735.7 L960.4,736.1 L962.0,736.4 L963.7,736.7 L965.3,737.1 L967.0,737.4 L968.7,737.8 L970.4,738.2 L971.9,738.6 L973.3,738.9 L974.8,739.3 L976.3,739.7 L977.8,740.1 L979.4,740.5 L980.9,740.9 L982.4,741.3 L984.0,741.7 L985.6,742.1 L987.1,742.5 L988.7,742.9 L990.3,743.4 L991.9,743.8 L993.5,744.2 L995.1,744.6 L996.7,745.0 L998.4,745.4 L1000.0,745.8 L1001.5,746.2 L1003.0,746.5 L1004.5,746.8 L1006.1,747.2 L1007.7,747.5 L1009.2,747.8 L1010.8,748.2 L1012.4,748.5 L1014.0,748.8 L1015.6,749.1 L1017.2,749.5 L1018.8,749.8 L1020.4,750.1 L1022.0,750.5 L1023.6,750.8 L1025.2,751.1 L1026.8,751.5 L1028.4,751.9 L1029.9,752.2 L1031.5,752.6 L1033.0,753.0 L1034.6,753.4 L1036.1,753.8 L1037.7,754.2 L1039.2,754.7 L1040.8,755.1 L1042.4,755.6 L1043.9,756.0 L1045.5,756.5 L1047.0,756.9 L1048.6,757.4 L1050.1,757.9 L1051.7,758.4 L1053.2,758.9 L1054.7,759.4 L1056.2,759.9 L1057.7,760.4 L1059.2,760.9 L1060.7,761.5 L1062.2,762.0 L1063.6,762.6 L1065.1,763.2 L1066.6,763.8 L1068.0,764.4 L1069.5,765.1 L1071.1,765.8 L1072.6,766.6 L1074.1,767.4 L1075.7,768.3 L1077.2,769.2 L1078.7,770.1 L1080.2,771.0 L1081.7,771.9 L1083.2,772.8 L1084.7,773.6 L1086.1,774.5 L1087.5,775.3 L1088.9,776.1 L1090.3,776.9 L1091.7,777.6 L1093.0,778.2 L1094.3,778.8 L1095.6,779.3 L1097.4,779.9 L1099.2,780.4 L1100.9,780.8 L1102.6,781.2 L1104.2,781.5 L1105.8,781.7 L1107.4,782.0 L1108.9,782.2 L1110.5,782.5 L1112.5,782.9 L1114.5,783.3 L1116.5,783.7 L1118.4,784.1 L1120.2,784.3 L1122.0,784.4 L1124.1,784.4 L1126.2,784.2 L1128.2,783.9 L1130.0,783.3 L1132.0,782.3 L1133.9,781.0 L1135.9,779.4 L1137.1,778.4 L1138.3,777.3 L1139.6,776.1 L1141.0,774.8 L1142.3,773.5 L1143.6,772.2 L1144.9,770.9 L1146.2,769.6 L1147.4,768.4 L1148.6,767.2 L1149.8,766.0 L1151.0,764.8 L1152.2,763.5 L1153.3,762.3 L1154.4,761.1 L1155.5,759.8 L1156.7,758.2 L1157.8,756.7 L1158.9,755.2 L1160.0,753.6 L1161.1,751.9 L1162.3,750.0 L1163.1,748.8 L1163.9,747.6 L1164.7,746.4 L1165.6,745.1 L1166.5,743.8 L1167.4,742.4 L1168.4,741.0 L1169.3,739.6 L1170.3,738.1 L1171.2,736.6 L1172.1,735.1 L1173.0,733.6 L1173.9,732.1 L1174.7,730.6 L1175.5,729.0 L1176.2,727.6 L1176.8,726.2 L1177.4,724.8 L1178.1,723.4 L1178.7,722.0 L1179.2,720.6 L1179.8,719.1 L1180.4,717.6 L1180.9,716.1 L1181.5,714.6 L1182.0,713.1 L1182.5,711.5 L1183.1,710.0 L1183.6,708.4 L1184.2,706.8 L1184.7,705.1 L1185.3,703.4 L1185.8,701.7 L1186.4,700.0 L1186.8,698.7 L1187.3,697.3 L1187.7,696.0 L1188.1,694.6 L1188.6,693.2 L1189.0,691.8 L1189.5,690.3 L1189.9,688.9 L1190.4,687.4 L1190.8,685.9 L1191.3,684.4 L1191.7,682.9 L1192.2,681.3 L1192.6,679.8 L1193.1,678.2 L1193.5,676.7 L1193.9,675.1 L1194.4,673.5 L1194.8,672.0 L1195.3,670.4 L1195.7,668.8 L1196.2,667.2 L1196.6,665.6 L1197.0,664.0 L1197.5,662.5 L1197.9,660.9 L1198.3,659.3 L1198.7,657.7 L1199.2,656.2 L1199.6,654.6 L1200.0,653.1 L1200.4,651.5 L1200.8,650.0 L1201.2,648.5 L1201.6,647.0 L1202.0,645.5 L1202.4,644.1 L1202.8,642.6 L1203.1,641.2 L1203.5,639.7 L1203.9,638.3 L1204.3,636.9 L1204.6,635.4 L1205.0,634.0 L1205.4,632.6 L1205.7,631.2 L1206.1,629.7 L1206.4,628.3 L1206.8,626.8 L1207.1,625.4 L1207.5,623.9 L1207.9,622.5 L1208.2,621.0 L1208.6,619.5 L1208.9,618.0 L1209.3,616.5 L1209.6,614.9 L1210.0,613.4 L1210.4,611.8 L1210.7,610.2 L1211.1,608.5 L1211.4,606.9 L1211.8,605.2 L1212.2,603.5 L1212.5,601.8 L1212.9,600.0 L1213.2,598.7 L1213.4,597.5 L1213.7,596.2 L1214.0,594.9 L1214.2,593.6 L1214.5,592.2 L1214.8,590.9 L1215.0,589.5 L1215.3,588.1 L1215.6,586.7 L1215.9,585.4 L1216.1,583.9 L1216.4,582.5 L1216.7,581.1 L1217.0,579.6 L1217.2,578.2 L1217.5,576.7 L1217.8,575.2 L1218.1,573.8 L1218.3,572.3 L1218.6,570.8 L1218.9,569.3 L1219.2,567.7 L1219.5,566.2 L1219.7,564.7 L1220.0,563.1 L1220.3,561.6 L1220.6,560.0 L1220.9,558.5 L1221.1,556.9 L1221.4,555.4 L1221.7,553.8 L1222.0,552.2 L1222.3,550.6 L1222.5,549.0 L1222.8,547.4 L1223.1,545.9 L1223.4,544.3 L1223.6,542.7 L1223.9,541.1 L1224.2,539.5 L1224.4,537.9 L1224.7,536.3 L1225.0,534.7 L1225.2,533.0 L1225.5,531.4 L1225.8,529.8 L1226.0,528.2 L1226.3,526.6 L1226.6,525.0 L1226.8,523.4 L1227.1,521.9 L1227.3,520.3 L1227.6,518.7 L1227.8,517.1 L1228.1,515.5 L1228.3,513.9 L1228.5,512.4 L1228.8,510.8 L1229.0,509.2 L1229.3,507.7 L1229.5,506.1 L1229.7,504.6 L1230.0,503.1 L1230.2,501.5 L1230.4,500.0 L1230.6,498.5 L1230.8,497.0 L1231.1,495.5 L1231.3,494.0 L1231.5,492.4 L1231.7,490.9 L1231.9,489.4 L1232.1,487.9 L1232.3,486.4 L1232.5,484.9 L1232.7,483.4 L1232.9,481.8 L1233.1,480.3 L1233.3,478.8 L1233.5,477.3 L1233.7,475.8 L1233.9,474.3 L1234.1,472.8 L1234.3,471.2 L1234.5,469.7 L1234.7,468.2 L1234.8,466.7 L1235.0,465.2 L1235.2,463.7 L1235.4,462.2 L1235.6,460.6 L1235.8,459.1 L1235.9,457.6 L1236.1,456.1 L1236.3,454.6 L1236.5,453.1 L1236.6,451.6 L1236.8,450.0 L1237.0,448.5 L1237.2,447.0 L1237.3,445.5 L1237.5,444.0 L1237.7,442.5 L1237.8,440.9 L1238.0,439.4 L1238.2,437.9 L1238.3,436.4 L1238.5,434.9 L1238.7,433.4 L1238.8,431.8 L1239.0,430.3 L1239.1,428.8 L1239.3,427.3 L1239.4,425.8 L1239.6,424.3 L1239.8,422.7 L1239.9,421.2 L1240.1,419.7 L1240.2,418.2 L1240.4,416.7 L1240.5,415.2 L1240.7,413.6 L1240.8,412.1 L1241.0,410.6 L1241.1,409.1 L1241.3,407.6 L1241.4,406.1 L1241.6,404.5 L1241.7,403.0 L1241.9,401.5 L1242.0,400.0 L1242.1,398.5 L1242.3,396.9 L1242.4,395.4 L1242.6,393.9 L1242.7,392.3 L1242.8,390.8 L1243.0,389.2 L1243.1,387.7 L1243.3,386.2 L1243.4,384.6 L1243.5,383.1 L1243.6,381.6 L1243.8,380.0 L1243.9,378.5 L1244.0,376.9 L1244.1,375.4 L1244.3,373.9 L1244.4,372.3 L1244.5,370.8 L1244.6,369.2 L1244.7,367.7 L1244.9,366.2 L1245.0,364.6 L1245.1,363.1 L1245.2,361.6 L1245.3,360.0 L1245.4,358.5 L1245.6,356.9 L1245.7,355.4 L1245.8,353.9 L1245.9,352.3 L1246.0,350.8 L1246.1,349.2 L1246.2,347.7 L1246.3,346.2 L1246.4,344.6 L1246.5,343.1 L1246.6,341.5 L1246.7,340.0 L1246.9,338.5 L1247.0,336.9 L1247.1,335.4 L1247.2,333.9 L1247.3,332.3 L1247.4,330.8 L1247.5,329.2 L1247.6,327.7 L1247.7,326.2 L1247.8,324.6 L1247.9,323.1 L1248.0,321.5 L1248.1,320.0 L1248.2,318.5 L1248.3,316.9 L1248.4,315.4 L1248.5,313.8 L1248.6,312.3 L1248.7,310.8 L1248.9,309.2 L1249.0,307.7 L1249.1,306.2 L1249.2,304.6 L1249.3,303.1 L1249.4,301.5 L1249.5,300.0 L1249.6,298.5 L1249.7,296.9 L1249.8,295.4 L1249.9,293.8 L1250.1,292.3 L1250.2,290.8 L1250.3,289.2 L1250.4,287.7 L1250.5,286.1 L1250.6,284.6 L1250.7,283.0 L1250.8,281.5 L1250.9,279.9 L1251.1,278.4 L1251.2,276.8 L1251.3,275.3 L1251.4,273.7 L1251.5,272.2 L1251.6,270.6 L1251.7,269.1 L1251.8,267.5 L1251.9,266.0 L1252.0,264.4 L1252.2,262.9 L1252.3,261.3 L1252.4,259.8 L1252.5,258.2 L1252.6,256.6 L1252.7,255.1 L1252.8,253.5 L1252.9,252.0 L1253.0,250.5 L1253.1,248.9 L1253.2,247.4 L1253.3,245.8 L1253.5,244.3 L1253.6,242.7 L1253.7,241.2 L1253.8,239.6 L1253.9,238.1 L1254.0,236.5 L1254.1,235.0 L1254.2,233.5 L1254.3,231.9 L1254.4,230.4 L1254.5,228.8 L1254.6,227.3 L1254.7,225.8 L1254.8,224.3 L1254.9,222.7 L1255.0,221.2 L1255.1,219.7 L1255.2,218.1 L1255.3,216.6 L1255.4,215.1 L1255.5,213.6 L1255.6,212.1 L1255.7,210.5 L1255.8,209.0 L1255.9,207.5 L1255.9,206.0 L1256.0,204.5 L1256.1,203.0 L1256.2,201.5 L1256.3,200.0 L1256.4,198.4 L1256.5,196.9 L1256.6,195.3 L1256.7,193.7 L1256.7,192.2 L1256.8,190.6 L1256.9,189.0 L1257.0,187.5 L1257.1,185.9 L1257.2,184.3 L1257.3,182.8 L1257.3,181.2 L1257.4,179.6 L1257.5,178.1 L1257.6,176.5 L1257.7,175.0 L1257.7,173.4 L1257.8,171.8 L1257.9,170.3 L1258.0,168.7 L1258.1,167.2 L1258.1,165.6 L1258.2,164.1 L1258.3,162.5 L1258.4,161.0 L1258.4,159.4 L1258.5,157.9 L1258.6,156.3 L1258.7,154.8 L1258.7,153.2 L1258.8,151.7 L1258.9,150.2 L1259.0,148.6 L1259.0,147.1 L1259.1,145.6 L1259.2,144.0 L1259.2,142.5 L1259.3,141.0 L1259.4,139.5 L1259.4,138.0 L1259.5,136.5 L1259.6,135.0 L1259.6,133.5 L1259.7,132.0 L1259.8,130.5 L1259.8,129.0 L1259.9,127.5 L1260.0,126.0 L1260.0,124.5 L1260.1,123.1 L1260.2,121.6 L1260.2,120.1 L1260.3,118.7 L1260.4,117.2 L1260.4,115.8 L1260.5,114.3 L1260.6,112.9 L1260.6,111.4 L1260.7,110.0 L1260.8,108.3 L1260.8,106.7 L1260.9,105.0 L1261.0,103.3 L1261.1,101.6 L1261.1,99.9 L1261.2,98.2 L1261.3,96.5 L1261.4,94.8 L1261.4,93.0 L1261.5,91.3 L1261.6,89.6 L1261.7,87.9 L1261.7,86.2 L1261.8,84.4 L1261.9,82.7 L1262.0,81.0 L1262.0,79.3 L1262.1,77.6 L1262.2,76.0 L1262.2,74.3 L1262.3,72.6 L1262.4,71.0 L1262.4,69.3 L1262.5,67.7 L1262.6,66.1 L1262.6,64.5 L1262.7,62.9 L1262.8,61.4 L1262.8,59.9 L1262.9,58.4 L1262.9,56.9 L1263.0,55.4 L1263.1,54.0 L1263.1,52.5 L1263.2,51.1 L1263.2,49.8 L1263.3,48.4 L1263.3,47.1 L1263.4,45.9 L1263.4,44.6 L1263.5,43.4 L1263.5,42.2 L1263.6,41.1 L1263.6,40.0 L1263.7,37.9 L1263.8,36.0 L1263.8,34.1 L1263.9,32.4 L1263.9,30.8 L1264.0,29.2 L1264.0,27.7 L1264.1,26.2 L1264.1,24.7 L1264.2,23.2 L1264.2,21.6 L1264.3,20.0" stroke="#0000ff" stroke-width="5.3"/>
<path d="M126.8,733.7 L128.6,733.7 L130.3,733.8 L132.0,733.8 L133.8,733.8 L135.5,733.8 L137.3,733.9 L139.1,733.9 L140.9,734.0 L142.8,734.1 L144.3,734.2 L145.8,734.3 L147.3,734.4 L148.9,734.6 L150.4,734.7 L152.0,734.9 L153.6,735.0 L155.2,735.2 L156.9,735.4 L158.6,735.6 L160.3,735.8 L162.0,736.0 L163.7,736.2 L165.5,736.4 L167.0,736.6 L168.5,736.8 L170.0,737.0 L171.6,737.2 L173.2,737.4 L174.8,737.6 L176.5,737.9 L178.1,738.1 L179.8,738.3 L181.5,738.6 L183.2,738.8 L184.8,739.1 L186.5,739.3 L188.2,739.5 L189.9,739.7 L191.6,740.0 L193.2,740.2 L194.9,740.4 L196.5,740.6 L198.1,740.7 L199.7,740.9 L201.4,741.1 L203.1,741.2 L204.9,741.4 L206.6,741.5 L208.3,741.6 L210.1,741.8 L211.8,741.9 L213.5,742.0 L215.2,742.1 L216.9,742.2 L218.5,742.3 L220.2,742.4 L221.8,742.5 L223.4,742.6 L224.9,742.6 L226.4,742.7 L227.9,742.8 L229.3,742.8 L231.3,742.9 L233.2,742.9 L235.0,742.9 L236.7,742.9 L238.4,742.9 L240.1,742.9 L241.8,742.9 L243.5,742.9 L245.2,742.8 L246.9,742.7 L248.6,742.6 L250.3,742.4 L252.0,742.3 L253.7,742.1 L255.4,741.9 L257.2,741.8 L259.1,741.7 L261.1,741.6 L262.5,741.6 L264.0,741.6 L265.5,741.6 L267.1,741.6 L268.8,741.7 L270.4,741.8 L272.1,741.8 L273.8,741.9 L275.6,742.0 L277.3,742.1 L279.0,742.2 L280.8,742.3 L282.5,742.4 L284.2,742.5 L285.9,742.6 L287.5,742.6 L289.1,742.7 L290.7,742.8 L292.4,742.9 L294.1,742.9 L295.7,743.0 L297.3,743.1 L298.9,743.1 L300.4,743.2 L302.0,743.2 L303.6,743.3 L305.1,743.4 L306.7,743.4 L308.4,743.5 L310.0,743.6 L311.7,743.8 L313.5,743.9 L315.0,744.0 L316.5,744.2 L318.0,744.3 L319.6,744.4 L321.2,744.6 L322.8,744.8 L324.4,744.9 L326.0,745.1 L327.6,745.3 L329.3,745.5 L331.0,745.7 L332.6,745.9 L334.3,746.1 L336.0,746.3 L337.7,746.5 L339.3,746.7 L341.0,746.9 L342.7,747.2 L344.3,747.4 L346.0,747.6 L347.6,747.8 L349.2,748.0 L350.7,748.2 L352.3,748.4 L353.8,748.7 L355.3,748.9 L356.9,749.1 L358.4,749.3 L360.0,749.5 L361.5,749.8 L363.0,750.0 L364.6,750.2 L366.1,750.5 L367.7,750.7 L369.2,751.0 L370.8,751.2 L372.3,751.5 L373.9,751.7 L375.5,752.0 L377.0,752.2 L378.6,752.5 L380.2,752.7 L381.8,753.0 L383.3,753.3 L384.9,753.5 L386.5,753.8 L388.0,754.1 L389.6,754.3 L391.1,754.6 L392.7,754.9 L394.3,755.2 L395.8,755.4 L397.4,755.7 L399.0,756.0 L400.6,756.3 L402.1,756.6 L403.7,756.9 L405.3,757.2 L406.9,757.5 L408.5,757.8 L410.2,758.1 L411.8,758.4 L413.4,758.6 L415.0,758.9 L416.7,759.2 L418.3,759.5 L420.0,759.8 L421.5,760.1 L423.0,760.3 L424.5,760.6 L426.1,760.8 L427.6,761.1 L429.2,761.4 L430.7,761.6 L432.3,761.9 L433.8,762.1 L435.4,762.4 L437.0,762.7 L438.5,762.9 L440.1,763.2 L441.7,763.5 L443.3,763.7 L444.9,764.0 L446.5,764.2 L448.1,764.5 L449.7,764.8 L451.2,765.0 L452.8,765.3 L454.4,765.5 L456.0,765.8 L457.6,766.0 L459.2,766.3 L460.8,766.5 L462.4,766.8 L463.9,767.1 L465.5,767.3 L467.1,767.5 L468.6,767.8 L470.2,768.0 L471.8,768.3 L473.3,768.5 L474.9,768.8 L476.5,769.0 L478.0,769.3 L479.6,769.5 L481.2,769.8 L482.8,770.0 L484.3,770.2 L485.9,770.5 L487.5,770.7 L489.0,771.0 L490.6,771.2 L492.2,771.4 L493.7,771.7 L495.3,771.9 L496.9,772.1 L498.4,772.4 L500.0,772.6 L501.6,772.8 L503.1,773.1 L504.7,773.3 L506.3,773.5 L507.9,773.7 L509.4,774.0 L511.0,774.2 L512.6,774.4 L514.2,774.6 L515.7,774.9 L517.3,775.1 L518.9,775.3 L520.5,775.5 L522.1,775.8 L523.8,776.0 L525.4,776.2 L527.0,776.4 L528.6,776.6 L530.2,776.9 L531.8,777.1 L533.4,777.3 L535.0,777.5 L536.6,777.7 L538.2,777.9 L539.8,778.1 L541.4,778.4 L542.9,778.6 L544.5,778.8 L546.0,779.0 L547.6,779.2 L549.1,779.4 L550.6,779.6 L552.2,779.7 L553.7,779.9 L555.1,780.1 L556.6,780.3 L558.3,780.5 L560.1,780.7 L561.8,780.9 L563.5,781.2 L565.1,781.4 L566.8,781.6 L568.5,781.8 L570.1,782.0 L571.8,782.2 L573.4,782.4 L575.0,782.6 L576.6,782.8 L578.2,783.0 L579.8,783.1 L581.4,783.3 L582.9,783.5 L584.5,783.6 L586.1,783.8 L587.6,783.9 L589.2,784.1 L590.7,784.2 L592.4,784.3 L594.1,784.5 L595.8,784.6 L597.5,784.7 L599.2,784.8 L600.9,785.0 L602.6,785.1 L604.3,785.2 L605.9,785.2 L607.6,785.3 L609.2,785.4 L610.7,785.5 L612.3,785.5 L613.8,785.5 L615.2,785.6 L616.6,785.6 L618.0,785.6 L619.9,785.6 L621.7,785.6 L623.4,785.5 L625.1,785.4 L626.7,785.3 L628.3,785.2 L630.0,785.1 L631.7,784.9 L633.4,784.7 L635.1,784.5 L636.8,784.2 L638.5,783.9 L640.3,783.7 L642.0,783.4 L643.8,783.1 L645.7,782.8 L647.6,782.6 L649.1,782.4 L650.6,782.3 L652.2,782.1 L653.8,782.0 L655.4,781.9 L657.1,781.7 L658.7,781.6 L660.4,781.5 L662.1,781.4 L663.8,781.3 L665.4,781.2 L667.1,781.1 L668.8,781.1 L670.4,781.0 L672.0,780.9 L673.6,780.9 L675.3,780.9 L676.9,780.8 L678.5,780.8 L680.1,780.8 L681.7,780.8 L683.3,780.8 L684.9,780.8 L686.6,780.8 L688.2,780.9 L689.8,780.9 L691.5,780.9 L693.2,781.0 L694.8,781.1 L696.4,781.1 L698.0,781.2 L699.7,781.3 L701.3,781.4 L703.0,781.6 L704.6,781.7 L706.3,781.8 L707.9,781.9 L709.6,782.1 L711.3,782.2 L713.0,782.4 L714.7,782.5 L716.5,782.7 L718.2,782.8 L720.0,783.0 L721.5,783.1 L723.1,783.3 L724.7,783.4 L726.2,783.6 L727.8,783.7 L729.4,783.9 L731.1,784.0 L732.7,784.2 L734.3,784.3 L736.0,784.5 L737.6,784.6 L739.3,784.8 L740.9,785.0 L742.6,785.2 L744.2,785.3 L745.9,785.5 L747.5,785.7 L749.2,785.9 L750.8,786.1 L752.5,786.3 L754.1,786.5 L755.7,786.7 L757.2,786.9 L758.8,787.1 L760.3,787.3 L761.9,787.6 L763.4,787.8 L765.0,788.0 L766.5,788.3 L768.1,788.5 L769.7,788.7 L771.2,789.0 L772.8,789.2 L774.3,789.5 L775.9,789.7 L777.4,790.0 L779.0,790.3 L780.5,790.5 L782.1,790.8 L783.6,791.0 L785.2,791.3 L786.7,791.5 L788.3,791.8 L789.9,792.1 L791.4,792.3 L793.0,792.6 L794.5,792.8 L796.1,793.1 L797.6,793.4 L799.2,793.6 L800.7,793.9 L802.3,794.2 L803.8,794.5 L805.4,794.7 L806.9,795.0 L808.5,795.3 L810.0,795.6 L811.6,795.8 L813.1,796.1 L814.7,796.4 L816.2,796.7 L817.8,797.0 L819.3,797.2 L820.8,797.5 L822.4,797.8 L824.0,798.1 L825.5,798.4 L827.1,798.7 L828.6,798.9 L830.2,799.2 L831.7,799.5 L833.3,799.8 L834.8,800.1 L836.4,800.4 L838.0,800.7 L839.5,801.0 L841.1,801.3 L842.6,801.6 L844.2,801.9 L845.7,802.2 L847.3,802.5 L848.8,802.8 L850.4,803.1 L851.9,803.4 L853.5,803.7 L855.0,804.0 L856.6,804.3 L858.2,804.6 L859.7,804.9 L861.3,805.2 L862.8,805.6 L864.4,805.9 L865.9,806.2 L867.5,806.5 L869.0,806.8 L870.6,807.2 L872.1,807.5 L873.7,807.8 L875.2,808.1 L876.8,808.5 L878.3,808.8 L879.9,809.1 L881.4,809.5 L883.0,809.8 L884.5,810.1 L886.1,810.5 L887.6,810.8 L889.2,811.2 L890.7,811.5 L892.3,811.8 L893.8,812.2 L895.4,812.6 L896.9,812.9 L898.5,813.3 L900.0,813.6 L901.6,814.0 L903.1,814.4 L904.7,814.7 L906.2,815.1 L907.8,815.5 L909.4,815.8 L910.9,816.2 L912.5,816.6 L914.0,816.9 L915.6,817.3 L917.1,817.7 L918.7,818.0 L920.2,818.4 L921.8,818.7 L923.3,819.1 L924.9,819.4 L926.4,819.7 L928.0,820.1 L929.5,820.4 L931.1,820.7 L932.6,821.0 L934.2,821.4 L935.7,821.7 L937.3,822.0 L938.8,822.3 L940.4,822.6 L941.9,822.9 L943.5,823.3 L945.0,823.6 L946.6,823.9 L948.1,824.2 L949.7,824.5 L951.2,824.8 L952.8,825.1 L954.3,825.3 L955.9,825.6 L957.4,825.9 L959.0,826.2 L960.5,826.5 L962.1,826.8 L963.6,827.0 L965.2,827.3 L966.7,827.5 L968.3,827.8 L969.8,828.1 L971.3,828.3 L972.9,828.6 L974.4,828.8 L976.0,829.1 L977.5,829.3 L979.0,829.5 L980.6,829.8 L982.2,830.0 L983.7,830.3 L985.3,830.5 L986.8,830.7 L988.4,831.0 L990.0,831.2 L991.6,831.5 L993.2,831.7 L994.7,831.9 L996.2,832.1 L997.8,832.4 L999.3,832.6 L1000.8,832.8 L1002.4,833.0 L1004.0,833.2 L1005.5,833.4 L1007.1,833.7 L1008.7,833.9 L1010.3,834.1 L1011.8,834.3 L1013.4,834.5 L1015.0,834.7 L1016.6,834.9 L1018.1,835.1 L1019.7,835.3 L1021.3,835.6 L1022.8,835.8 L1024.4,836.0 L1025.9,836.2 L1027.4,836.4 L1028.9,836.6 L1030.4,836.8 L1031.9,837.0 L1033.6,837.2 L1035.2,837.4 L1036.9,837.7 L1038.5,837.9 L1040.2,838.1 L1041.8,838.3 L1043.4,838.5 L1045.0,838.7 L1046.6,838.9 L1048.2,839.1 L1049.8,839.3 L1051.4,839.5 L1053.0,839.7 L1054.5,839.9 L1056.1,840.2 L1057.6,840.4 L1059.2,840.7 L1060.7,840.9 L1062.2,841.2 L1063.7,841.5 L1065.4,841.9 L1067.1,842.3 L1068.7,842.7 L1070.3,843.1 L1072.0,843.6 L1073.6,844.0 L1075.2,844.5 L1076.8,845.0 L1078.4,845.5 L1079.9,845.9 L1081.5,846.4 L1083.0,846.8 L1084.6,847.2 L1086.1,847.6 L1087.7,848.0 L1089.2,848.3 L1090.9,848.6 L1092.6,848.9 L1094.4,849.2 L1096.1,849.5 L1097.8,849.8 L1099.5,850.0 L1101.2,850.2 L1102.9,850.4 L1104.5,850.6 L1106.1,850.7 L1107.6,850.8 L1109.1,850.9 L1110.5,850.9 L1112.6,850.9 L1114.6,850.7 L1116.5,850.5 L1118.4,850.2 L1120.2,849.9 L1122.0,849.5 L1123.7,849.1 L1125.5,848.6 L1127.2,848.1 L1128.8,847.5 L1130.4,846.8 L1132.0,846.0 L1133.6,844.9 L1135.1,843.7 L1136.5,842.4 L1137.9,841.0 L1139.4,839.5 L1140.8,838.1 L1142.1,836.8 L1143.5,835.4 L1144.9,834.1 L1146.2,832.7 L1147.6,831.3 L1148.9,829.8 L1150.1,828.4 L1151.2,827.0 L1152.3,825.6 L1153.4,824.3 L1154.4,822.9 L1155.4,821.4 L1156.4,820.0 L1157.4,818.6 L1158.4,817.0 L1159.4,815.3 L1160.4,813.7 L1161.3,812.0 L1162.3,810.4 L1163.3,808.8 L1164.3,807.3 L1165.4,805.9 L1166.4,804.5 L1167.5,803.1 L1168.5,801.6 L1169.5,800.0 L1170.2,798.7 L1170.9,797.3 L1171.7,795.8 L1172.4,794.3 L1173.0,792.8 L1173.7,791.2 L1174.4,789.6 L1175.1,788.1 L1175.8,786.5 L1176.5,785.0 L1177.2,783.5 L1177.9,782.0 L1178.6,780.6 L1179.3,779.1 L1180.0,777.6 L1180.7,776.2 L1181.4,774.7 L1182.1,773.2 L1182.8,771.6 L1183.5,770.0 L1184.1,768.6 L1184.7,767.1 L1185.3,765.6 L1185.9,764.1 L1186.6,762.6 L1187.2,761.1 L1187.8,759.6 L1188.4,758.0 L1189.0,756.4 L1189.6,754.8 L1190.2,753.2 L1190.9,751.6 L1191.5,750.0 L1192.1,748.5 L1192.7,747.0 L1193.3,745.5 L1193.9,744.0 L1194.5,742.4 L1195.1,740.8 L1195.7,739.3 L1196.3,737.7 L1196.9,736.1 L1197.5,734.5 L1198.1,732.9 L1198.7,731.3 L1199.3,729.7 L1199.9,728.2 L1200.5,726.6 L1201.0,725.0 L1201.5,723.4 L1202.0,721.9 L1202.5,720.3 L1203.0,718.8 L1203.5,717.2 L1204.0,715.7 L1204.5,714.1 L1205.0,712.5 L1205.4,711.0 L1205.9,709.4 L1206.4,707.8 L1206.8,706.3 L1207.3,704.7 L1207.7,703.1 L1208.2,701.6 L1208.6,700.0 L1209.0,698.4 L1209.5,696.9 L1209.9,695.3 L1210.3,693.8 L1210.7,692.2 L1211.2,690.6 L1211.6,689.1 L1212.0,687.5 L1212.4,685.9 L1212.8,684.4 L1213.2,682.8 L1213.6,681.3 L1214.0,679.7 L1214.4,678.1 L1214.8,676.6 L1215.2,675.0 L1215.6,673.5 L1216.0,671.9 L1216.4,670.4 L1216.7,669.0 L1217.1,667.5 L1217.5,666.0 L1217.9,664.5 L1218.2,663.1 L1218.6,661.5 L1219.0,660.0 L1219.4,658.5 L1219.7,656.9 L1220.1,655.2 L1220.5,653.5 L1220.9,651.8 L1221.3,650.0 L1221.6,648.7 L1221.9,647.4 L1222.2,646.0 L1222.5,644.7 L1222.8,643.3 L1223.1,641.9 L1223.4,640.5 L1223.7,639.1 L1224.0,637.7 L1224.3,636.2 L1224.6,634.8 L1224.9,633.3 L1225.2,631.8 L1225.5,630.3 L1225.8,628.7 L1226.1,627.2 L1226.4,625.6 L1226.8,624.0 L1227.1,622.4 L1227.4,620.8 L1227.7,619.2 L1228.0,617.5 L1228.3,615.8 L1228.6,614.1 L1228.9,612.4 L1229.3,610.7 L1229.6,609.0 L1229.9,607.2 L1230.2,605.4 L1230.5,603.6 L1230.8,601.8 L1231.1,600.0 L1231.3,598.7 L1231.5,597.5 L1231.7,596.2 L1231.9,594.9 L1232.1,593.5 L1232.4,592.2 L1232.6,590.9 L1232.8,589.5 L1233.0,588.1 L1233.2,586.7 L1233.4,585.3 L1233.6,583.9 L1233.9,582.5 L1234.1,581.1 L1234.3,579.6 L1234.5,578.2 L1234.7,576.7 L1234.9,575.2 L1235.2,573.8 L1235.4,572.3 L1235.6,570.8 L1235.8,569.2 L1236.0,567.7 L1236.3,566.2 L1236.5,564.7 L1236.7,563.1 L1236.9,561.6 L1237.1,560.0 L1237.3,558.5 L1237.6,556.9 L1237.8,555.3 L1238.0,553.8 L1238.2,552.2 L1238.4,550.6 L1238.6,549.0 L1238.8,547.4 L1239.0,545.8 L1239.3,544.2 L1239.5,542.6 L1239.7,541.0 L1239.9,539.4 L1240.1,537.8 L1240.3,536.2 L1240.5,534.6 L1240.7,533.0 L1240.9,531.4 L1241.1,529.8 L1241.3,528.2 L1241.5,526.6 L1241.7,525.0 L1241.9,523.4 L1242.1,521.8 L1242.2,520.3 L1242.4,518.7 L1242.6,517.1 L1242.8,515.5 L1243.0,513.9 L1243.2,512.4 L1243.3,510.8 L1243.5,509.2 L1243.7,507.7 L1243.8,506.1 L1244.0,504.6 L1244.2,503.1 L1244.3,501.5 L1244.5,500.0 L1244.7,498.5 L1244.8,496.9 L1245.0,495.4 L1245.1,493.9 L1245.3,492.3 L1245.4,490.8 L1245.6,489.2 L1245.7,487.7 L1245.8,486.2 L1246.0,484.6 L1246.1,483.1 L1246.2,481.6 L1246.4,480.0 L1246.5,478.5 L1246.6,476.9 L1246.7,475.4 L1246.9,473.9 L1247.0,472.3 L1247.1,470.8 L1247.2,469.3 L1247.3,467.7 L1247.5,466.2 L1247.6,464.6 L1247.7,463.1 L1247.8,461.6 L1247.9,460.0 L1248.0,458.5 L1248.1,456.9 L1248.2,455.4 L1248.3,453.9 L1248.4,452.3 L1248.5,450.8 L1248.6,449.2 L1248.8,447.7 L1248.9,446.2 L1249.0,444.6 L1249.1,443.1 L1249.2,441.6 L1249.3,440.0 L1249.4,438.5 L1249.5,436.9 L1249.6,435.4 L1249.7,433.9 L1249.8,432.3 L1249.9,430.8 L1250.0,429.2 L1250.1,427.7 L1250.2,426.2 L1250.3,424.6 L1250.4,423.1 L1250.5,421.5 L1250.6,420.0 L1250.7,418.5 L1250.8,416.9 L1250.9,415.4 L1251.0,413.8 L1251.1,412.3 L1251.2,410.8 L1251.3,409.2 L1251.4,407.7 L1251.5,406.2 L1251.7,404.6 L1251.8,403.1 L1251.9,401.5 L1252.0,400.0 L1252.1,398.5 L1252.2,396.9 L1252.4,395.4 L1252.5,393.8 L1252.6,392.3 L1252.7,390.8 L1252.9,389.2 L1253.0,387.7 L1253.1,386.2 L1253.2,384.6 L1253.4,383.1 L1253.5,381.5 L1253.6,380.0 L1253.7,378.5 L1253.9,376.9 L1254.0,375.4 L1254.1,373.8 L1254.3,372.3 L1254.4,370.8 L1254.5,369.2 L1254.7,367.7 L1254.8,366.2 L1254.9,364.6 L1255.1,363.1 L1255.2,361.5 L1255.3,360.0 L1255.5,358.5 L1255.6,356.9 L1255.7,355.4 L1255.8,353.9 L1256.0,352.3 L1256.1,350.8 L1256.2,349.2 L1256.4,347.7 L1256.5,346.2 L1256.6,344.6 L1256.7,343.1 L1256.9,341.5 L1257.0,340.0 L1257.1,338.5 L1257.2,336.9 L1257.4,335.4 L1257.5,333.9 L1257.6,332.3 L1257.7,330.8 L1257.8,329.2 L1258.0,327.7 L1258.1,326.2 L1258.2,324.6 L1258.3,323.1 L1258.4,321.5 L1258.5,320.0 L1258.6,318.5 L1258.7,316.9 L1258.9,315.4 L1259.0,313.9 L1259.1,312.3 L1259.2,310.8 L1259.3,309.2 L1259.3,307.7 L1259.4,306.2 L1259.5,304.6 L1259.6,303.1 L1259.7,301.5 L1259.8,300.0 L1259.9,298.5 L1260.0,296.9 L1260.0,295.4 L1260.1,293.8 L1260.2,292.3 L1260.3,290.8 L1260.3,289.2 L1260.4,287.7 L1260.5,286.1 L1260.5,284.6 L1260.6,283.0 L1260.7,281.5 L1260.7,279.9 L1260.8,278.4 L1260.9,276.8 L1260.9,275.3 L1261.0,273.7 L1261.0,272.2 L1261.1,270.6 L1261.1,269.1 L1261.2,267.5 L1261.2,266.0 L1261.3,264.4 L1261.3,262.9 L1261.4,261.3 L1261.4,259.8 L1261.5,258.2 L1261.5,256.7 L1261.5,255.1 L1261.6,253.6 L1261.6,252.0 L1261.7,250.5 L1261.7,248.9 L1261.7,247.4 L1261.8,245.8 L1261.8,244.3 L1261.9,242.7 L1261.9,241.2 L1261.9,239.6 L1262.0,238.1 L1262.0,236.5 L1262.1,235.0 L1262.1,233.5 L1262.1,231.9 L1262.2,230.4 L1262.2,228.8 L1262.2,227.3 L1262.3,225.8 L1262.3,224.2 L1262.4,222.7 L1262.4,221.2 L1262.4,219.7 L1262.5,218.1 L1262.5,216.6 L1262.6,215.1 L1262.6,213.6 L1262.6,212.1 L1262.7,210.5 L1262.7,209.0 L1262.8,207.5 L1262.8,206.0 L1262.9,204.5 L1262.9,203.0 L1263.0,201.5 L1263.0,200.0 L1263.1,198.4 L1263.1,196.9 L1263.2,195.3 L1263.2,193.7 L1263.3,192.2 L1263.3,190.6 L1263.4,189.0 L1263.4,187.5 L1263.5,185.9 L1263.5,184.3 L1263.6,182.8 L1263.6,181.2 L1263.7,179.6 L1263.7,178.1 L1263.8,176.5 L1263.8,174.9 L1263.9,173.4 L1263.9,171.8 L1264.0,170.3 L1264.0,168.7 L1264.1,167.2 L1264.1,165.6 L1264.2,164.0 L1264.2,162.5 L1264.3,160.9 L1264.3,159.4 L1264.4,157.9 L1264.4,156.3 L1264.5,154.8 L1264.5,153.2 L1264.6,151.7 L1264.6,150.2 L1264.7,148.6 L1264.7,147.1 L1264.8,145.6 L1264.8,144.0 L1264.9,142.5 L1264.9,141.0 L1265.0,139.5 L1265.0,138.0 L1265.1,136.5 L1265.1,135.0 L1265.2,133.5 L1265.2,132.0 L1265.3,130.5 L1265.3,129.0 L1265.4,127.5 L1265.4,126.0 L1265.5,124.5 L1265.5,123.1 L1265.6,121.6 L1265.6,120.1 L1265.7,118.7 L1265.7,117.2 L1265.8,115.8 L1265.8,114.3 L1265.9,112.9 L1265.9,111.4 L1266.0,110.0 L1266.1,108.3 L1266.1,106.7 L1266.2,105.0 L1266.2,103.3 L1266.3,101.6 L1266.4,99.9 L1266.4,98.2 L1266.5,96.5 L1266.5,94.8 L1266.6,93.0 L1266.7,91.3 L1266.7,89.6 L1266.8,87.9 L1266.9,86.2 L1266.9,84.4 L1267.0,82.7 L1267.0,81.0 L1267.1,79.3 L1267.2,77.6 L1267.2,76.0 L1267.3,74.3 L1267.4,72.6 L1267.4,71.0 L1267.5,69.3 L1267.5,67.7 L1267.6,66.1 L1267.7,64.5 L1267.7,62.9 L1267.8,61.4 L1267.8,59.9 L1267.9,58.3 L1268.0,56.9 L1268.0,55.4 L1268.1,53.9 L1268.1,52.5 L1268.2,51.1 L1268.2,49.8 L1268.3,48.4 L1268.3,47.1 L1268.4,45.9 L1268.4,44.6 L1268.5,43.4 L1268.5,42.2 L1268.6,41.1 L1268.6,40.0 L1268.7,37.9 L1268.8,36.0 L1268.8,34.1 L1268.9,32.4 L1269.0,30.8 L1269.0,29.2 L1269.1,27.7 L1269.1,26.2 L1269.2,24.7 L1269.3,23.2 L1269.3,21.6 L1269.4,20.0" stroke="#00ff00" stroke-width="5.3"/>
<path d="M125.2,595.8 L126.9,595.9 L128.6,596.0 L130.2,596.1 L131.9,596.1 L133.6,596.2 L135.2,596.3 L136.9,596.4 L138.6,596.5 L140.3,596.6 L142.0,596.7 L143.7,596.7 L145.5,596.8 L147.3,596.9 L148.8,597.0 L150.4,597.0 L152.0,597.1 L153.5,597.1 L155.2,597.2 L156.8,597.3 L158.4,597.3 L160.0,597.4 L161.7,597.4 L163.4,597.5 L165.0,597.6 L166.7,597.6 L168.4,597.7 L170.1,597.7 L171.8,597.8 L173.5,597.9 L175.2,597.9 L176.9,598.0 L178.5,598.1 L180.1,598.1 L181.6,598.2 L183.2,598.3 L184.9,598.4 L186.5,598.4 L188.1,598.5 L189.7,598.6 L191.3,598.7 L193.0,598.7 L194.6,598.8 L196.3,598.9 L197.9,599.0 L199.5,599.1 L201.2,599.1 L202.8,599.2 L204.5,599.3 L206.1,599.4 L207.7,599.5 L209.4,599.5 L211.0,599.6 L212.6,599.7 L214.3,599.7 L215.9,599.8 L217.5,599.9 L219.1,600.0 L220.8,600.0 L222.4,600.1 L224.0,600.2 L225.7,600.3 L227.3,600.3 L228.9,600.4 L230.5,600.5 L232.2,600.5 L233.8,600.6 L235.4,600.7 L237.1,600.7 L238.7,600.8 L240.3,600.8 L241.9,600.9 L243.6,601.0 L245.2,601.0 L246.8,601.0 L248.4,601.1 L250.1,601.1 L251.7,601.1 L253.3,601.2 L254.9,601.2 L256.6,601.2 L258.2,601.2 L259.8,601.2 L261.4,601.3 L263.1,601.3 L264.7,601.3 L266.3,601.3 L267.9,601.3 L269.6,601.3 L271.2,601.4 L272.8,601.4 L274.4,601.4 L276.1,601.4 L277.7,601.5 L279.3,601.5 L280.9,601.5 L282.6,601.6 L284.2,601.6 L285.8,601.7 L287.4,601.7 L289.1,601.8 L290.7,601.8 L292.3,601.9 L294.0,602.0 L295.6,602.0 L297.2,602.1 L298.8,602.1 L300.5,602.2 L302.1,602.2 L303.7,602.3 L305.4,602.4 L307.0,602.4 L308.6,602.5 L310.2,602.5 L311.9,602.6 L313.5,602.6 L315.1,602.6 L316.8,602.7 L318.4,602.7 L320.0,602.7 L321.7,602.8 L323.3,602.8 L325.0,602.8 L326.6,602.8 L328.2,602.9 L329.9,602.9 L331.5,602.9 L333.2,602.9 L334.8,603.0 L336.4,603.0 L338.0,603.0 L339.6,603.1 L341.3,603.1 L342.9,603.1 L344.4,603.2 L346.0,603.2 L347.6,603.3 L349.3,603.4 L351.0,603.4 L352.6,603.5 L354.3,603.6 L355.9,603.7 L357.5,603.8 L359.2,603.9 L360.8,604.0 L362.4,604.0 L364.0,604.1 L365.6,604.2 L367.3,604.3 L368.9,604.4 L370.5,604.5 L372.2,604.6 L373.8,604.7 L375.5,604.8 L377.2,604.9 L378.8,605.0 L380.3,605.1 L381.9,605.1 L383.5,605.2 L385.1,605.3 L386.7,605.3 L388.3,605.4 L389.9,605.5 L391.5,605.5 L393.1,605.6 L394.7,605.7 L396.3,605.8 L398.0,605.8 L399.6,605.9 L401.3,606.0 L402.9,606.1 L404.6,606.1 L406.3,606.2 L408.0,606.3 L409.7,606.4 L411.4,606.5 L412.9,606.6 L414.4,606.7 L416.0,606.8 L417.5,606.9 L419.1,607.0 L420.7,607.1 L422.3,607.2 L423.9,607.3 L425.5,607.4 L427.1,607.5 L428.7,607.6 L430.3,607.7 L431.9,607.8 L433.6,607.9 L435.2,608.0 L436.8,608.1 L438.4,608.2 L440.0,608.4 L441.7,608.5 L443.3,608.6 L444.8,608.7 L446.4,608.8 L448.0,608.9 L449.5,609.1 L451.1,609.2 L452.6,609.3 L454.1,609.4 L455.8,609.5 L457.5,609.7 L459.2,609.8 L460.9,610.0 L462.5,610.1 L464.2,610.3 L465.8,610.4 L467.4,610.6 L469.0,610.7 L470.6,610.9 L472.2,611.0 L473.8,611.2 L475.4,611.3 L477.0,611.5 L478.6,611.6 L480.2,611.8 L481.8,611.9 L483.4,612.0 L485.1,612.2 L486.7,612.3 L488.3,612.4 L489.9,612.5 L491.5,612.6 L493.2,612.7 L494.8,612.8 L496.4,612.9 L498.0,613.0 L499.7,613.1 L501.3,613.2 L502.9,613.3 L504.5,613.4 L506.2,613.5 L507.8,613.5 L509.4,613.6 L511.0,613.7 L512.7,613.8 L514.3,613.9 L515.9,613.9 L517.5,614.0 L519.2,614.1 L520.8,614.2 L522.4,614.3 L524.0,614.4 L525.7,614.5 L527.3,614.6 L528.9,614.7 L530.6,614.7 L532.2,614.8 L533.9,614.9 L535.5,615.0 L537.2,615.1 L538.8,615.2 L540.4,615.3 L542.1,615.3 L543.7,615.4 L545.4,615.5 L547.0,615.6 L548.6,615.7 L550.2,615.8 L551.8,615.9 L553.4,616.1 L555.0,616.2 L556.6,616.3 L558.3,616.4 L559.9,616.6 L561.6,616.7 L563.3,616.8 L565.0,617.0 L566.7,617.1 L568.4,617.2 L570.1,617.4 L571.8,617.5 L573.4,617.7 L575.1,617.8 L576.7,618.0 L578.3,618.2 L579.8,618.4 L581.3,618.5 L582.8,618.7 L584.3,619.0 L585.7,619.2 L587.0,619.4 L588.9,619.8 L590.7,620.2 L592.4,620.7 L594.0,621.1 L595.6,621.6 L597.2,622.1 L598.7,622.5 L600.4,622.9 L602.1,623.3 L603.7,623.6 L605.3,623.9 L607.0,624.1 L608.6,624.4 L610.3,624.6 L612.0,624.8 L613.7,625.0 L615.4,625.1 L617.0,625.3 L618.7,625.3 L620.3,625.4 L622.1,625.4 L623.9,625.4 L625.7,625.3 L627.5,625.2 L629.3,625.1 L631.0,624.9 L632.8,624.7 L634.5,624.4 L636.3,624.2 L638.0,623.9 L639.8,623.6 L641.4,623.2 L643.1,622.8 L644.8,622.4 L646.5,622.0 L648.3,621.6 L650.2,621.2 L652.2,620.8 L653.6,620.6 L655.1,620.3 L656.7,620.1 L658.3,619.8 L659.9,619.6 L661.6,619.4 L663.3,619.1 L665.0,618.9 L666.8,618.7 L668.5,618.5 L670.3,618.2 L672.0,618.0 L673.7,617.8 L675.4,617.6 L677.1,617.4 L678.7,617.2 L680.3,617.1 L681.8,616.9 L683.7,616.7 L685.5,616.6 L687.3,616.5 L689.1,616.4 L690.8,616.3 L692.6,616.2 L694.3,616.1 L695.9,616.0 L697.6,615.8 L699.2,615.7 L700.8,615.4 L702.3,615.1 L704.2,614.6 L705.9,614.1 L707.7,613.5 L709.3,612.9 L711.0,612.2 L712.6,611.5 L714.3,610.7 L716.0,610.0 L717.5,609.3 L719.0,608.6 L720.5,607.8 L722.1,607.0 L723.6,606.1 L725.1,605.3 L726.7,604.6 L728.2,603.8 L729.8,603.2 L731.4,602.6 L733.1,602.1 L734.9,601.6 L736.6,601.2 L738.4,600.9 L740.2,600.6 L742.0,600.3 L743.7,600.1 L745.5,599.8 L747.3,599.6 L749.1,599.4 L750.9,599.2 L752.6,599.1 L754.4,599.0 L756.2,598.9 L758.0,598.7 L759.8,598.6 L761.5,598.3 L763.3,598.0 L764.9,597.6 L766.5,597.2 L768.1,596.6 L769.7,596.1 L771.3,595.5 L772.8,594.9 L774.4,594.3 L776.0,593.8 L777.6,593.3 L779.2,592.8 L781.0,592.3 L782.7,591.9 L784.5,591.4 L786.2,590.9 L788.0,590.5 L789.8,590.2 L791.6,589.9 L793.3,589.7 L795.1,589.6 L796.9,589.6 L798.7,589.7 L800.4,589.9 L802.2,590.1 L804.0,590.4 L805.8,590.8 L807.6,591.2 L809.3,591.5 L811.0,591.9 L812.8,592.3 L814.5,592.8 L816.2,593.3 L817.8,593.8 L819.5,594.3 L821.2,594.8 L822.9,595.3 L824.7,595.8 L826.3,596.2 L828.0,596.6 L829.7,597.0 L831.5,597.4 L833.2,597.8 L834.9,598.2 L836.7,598.6 L838.4,598.9 L840.1,599.3 L841.8,599.6 L843.7,599.9 L845.6,600.2 L847.4,600.5 L849.2,600.7 L851.1,601.0 L852.9,601.2 L854.7,601.5 L856.6,601.9 L858.3,602.3 L860.1,602.7 L861.9,603.1 L863.6,603.6 L865.4,604.1 L867.2,604.6 L869.0,605.1 L870.7,605.5 L872.5,606.0 L874.3,606.5 L876.0,606.9 L877.8,607.4 L879.6,607.8 L881.3,608.3 L883.1,608.7 L884.9,609.2 L886.6,609.7 L888.4,610.1 L890.2,610.5 L892.0,610.9 L893.8,611.3 L895.6,611.7 L897.3,612.1 L899.1,612.6 L900.9,613.0 L902.7,613.5 L904.4,614.0 L906.1,614.6 L907.7,615.1 L909.4,615.8 L911.0,616.4 L912.6,617.1 L914.3,617.7 L915.9,618.4 L917.5,619.1 L919.2,619.7 L920.8,620.3 L922.3,620.9 L923.9,621.5 L925.5,622.1 L927.1,622.7 L928.7,623.3 L930.3,623.9 L931.9,624.4 L933.5,624.9 L935.1,625.4 L936.9,625.9 L938.6,626.3 L940.4,626.6 L942.2,626.9 L943.9,627.3 L945.7,627.6 L947.5,627.9 L949.2,628.3 L951.0,628.8 L952.6,629.3 L954.2,629.8 L955.8,630.4 L957.4,631.0 L959.0,631.6 L960.6,632.2 L962.2,632.8 L963.8,633.4 L965.4,634.0 L967.0,634.5 L968.6,635.0 L970.2,635.4 L971.8,635.9 L973.4,636.3 L975.0,636.7 L976.6,637.1 L978.2,637.5 L979.8,638.0 L981.3,638.5 L982.9,639.0 L984.6,639.7 L986.3,640.4 L987.9,641.1 L989.5,641.9 L991.2,642.7 L992.8,643.5 L994.4,644.3 L996.1,645.0 L997.7,645.8 L999.4,646.6 L1001.0,647.3 L1002.6,648.1 L1004.3,648.9 L1005.9,649.6 L1007.6,650.4 L1009.3,651.1 L1011.0,651.8 L1012.7,652.4 L1014.3,652.9 L1016.0,653.4 L1017.7,653.8 L1019.5,654.2 L1021.2,654.6 L1022.9,655.0 L1024.7,655.4 L1026.4,655.8 L1028.0,656.2 L1029.7,656.7 L1031.4,657.2 L1033.1,657.7 L1034.8,658.3 L1036.4,658.8 L1038.1,659.4 L1039.7,660.0 L1041.4,660.6 L1043.0,661.3 L1044.6,662.0 L1046.1,662.8 L1047.6,663.6 L1049.1,664.5 L1050.6,665.5 L1052.1,666.5 L1053.5,667.4 L1055.0,668.3 L1056.5,669.2 L1058.0,669.9 L1059.5,670.5 L1061.2,671.0 L1063.0,671.2 L1064.8,671.3 L1066.5,671.3 L1068.3,671.4 L1070.0,671.6 L1071.7,672.0 L1073.3,672.6 L1074.7,673.4 L1076.0,674.4 L1077.4,675.6 L1078.6,676.9 L1079.9,678.3 L1081.1,679.7 L1082.3,681.2 L1083.5,682.6 L1084.8,684.0 L1086.0,685.3 L1087.2,686.5 L1088.3,687.8 L1089.4,689.0 L1090.5,690.3 L1091.6,691.6 L1092.7,692.8 L1093.9,694.0 L1095.1,695.1 L1096.4,696.1 L1097.7,697.0 L1099.1,697.8 L1100.6,698.4 L1102.2,699.0 L1103.8,699.5 L1105.5,699.9 L1107.2,700.3 L1108.8,700.7 L1110.5,701.2 L1112.1,701.7 L1113.7,702.3 L1115.2,703.0 L1116.7,703.9 L1118.2,704.8 L1119.7,705.8 L1121.2,706.8 L1122.7,707.8 L1124.1,708.6 L1125.6,709.2 L1127.0,709.6 L1128.5,709.8" stroke="#000" stroke-width="8.6" stroke-dasharray="9 7.4"/>
<path d="M1245.9,32.5 L1245.8,34.3 L1245.7,36.0 L1245.6,37.9 L1245.5,40.0 L1245.4,41.3 L1245.4,42.7 L1245.3,44.2 L1245.2,45.9 L1245.1,47.5 L1245.0,49.3 L1244.9,51.1 L1244.8,52.9 L1244.7,54.6 L1244.7,56.4 L1244.6,58.1 L1244.5,59.8 L1244.4,61.4 L1244.3,63.2 L1244.2,64.9 L1244.1,66.6 L1244.0,68.3 L1244.0,70.0 L1243.9,71.6 L1243.8,73.3 L1243.7,75.0 L1243.7,76.6 L1243.6,78.3 L1243.5,80.0 L1243.5,81.7 L1243.4,83.4 L1243.4,85.1 L1243.4,86.8 L1243.3,88.5 L1243.3,90.2 L1243.3,91.9 L1243.2,93.6 L1243.2,95.2 L1243.2,97.1 L1243.1,98.9 L1243.1,100.7 L1243.1,102.5 L1243.0,104.4 L1243.0,106.2 L1243.0,108.1 L1242.9,110.0 L1242.8,111.6 L1242.8,113.3 L1242.7,115.0 L1242.7,116.8 L1242.6,118.5 L1242.5,120.3 L1242.4,122.1 L1242.3,123.8 L1242.3,125.6 L1242.2,127.3 L1242.1,129.0 L1242.0,130.7 L1241.9,132.4 L1241.8,134.1 L1241.7,135.8 L1241.6,137.5 L1241.6,139.2 L1241.5,140.9 L1241.4,142.5 L1241.3,144.2 L1241.2,145.9 L1241.1,147.6 L1241.0,149.3 L1241.0,151.0 L1240.9,152.7 L1240.8,154.3 L1240.8,156.0 L1240.7,157.7 L1240.6,159.4 L1240.6,161.1 L1240.5,162.8 L1240.4,164.5 L1240.4,166.2 L1240.3,167.8 L1240.3,169.5 L1240.2,171.2 L1240.2,172.8 L1240.2,174.5 L1240.1,176.2 L1240.1,177.9 L1240.0,179.7 L1239.9,181.3 L1239.9,183.0 L1239.8,184.7 L1239.8,186.5 L1239.7,188.2 L1239.7,190.0 L1239.6,191.7 L1239.6,193.4 L1239.5,195.1 L1239.4,196.8 L1239.4,198.4 L1239.3,200.0 L1239.2,201.9 L1239.1,203.7 L1239.0,205.5 L1238.9,207.2 L1238.8,208.9 L1238.7,210.6 L1238.6,212.4 L1238.5,214.2 L1238.4,215.9 L1238.3,217.7 L1238.2,219.4 L1238.1,221.2 L1238.0,223.0 L1237.9,224.8 L1237.8,226.6 L1237.7,228.4 L1237.6,230.2 L1237.5,231.9 L1237.3,233.6 L1237.2,235.3 L1237.1,237.0 L1236.9,238.7 L1236.8,240.4 L1236.6,242.1 L1236.5,243.8 L1236.3,245.5 L1236.2,247.2 L1236.1,248.9 L1235.9,250.6 L1235.8,252.3 L1235.7,254.0 L1235.5,255.7 L1235.4,257.3 L1235.3,259.0 L1235.2,260.7 L1235.0,262.4 L1234.9,264.1 L1234.8,265.8 L1234.7,267.5 L1234.5,269.1 L1234.4,270.8 L1234.3,272.5 L1234.2,274.2 L1234.1,275.9 L1233.9,277.6 L1233.8,279.3 L1233.7,281.0 L1233.6,282.7 L1233.5,284.4 L1233.4,286.2 L1233.3,288.0 L1233.2,289.7 L1233.1,291.5 L1233.0,293.3 L1232.9,295.0 L1232.7,296.7 L1232.6,298.4 L1232.4,300.0 L1232.2,301.8 L1231.9,303.6 L1231.6,305.3 L1231.3,307.0 L1231.0,308.7 L1230.7,310.4 L1230.4,312.1 L1230.1,313.9 L1229.9,315.6 L1229.6,317.3 L1229.4,319.1 L1229.2,320.9 L1228.9,322.7 L1228.7,324.5 L1228.5,326.4 L1228.3,328.2 L1228.0,329.9 L1227.8,331.7 L1227.5,333.5 L1227.3,335.3 L1227.0,337.1 L1226.7,338.8 L1226.5,340.6 L1226.2,342.4 L1225.9,344.1 L1225.7,345.9 L1225.5,347.7 L1225.3,349.4 L1225.2,351.0 L1225.1,352.7 L1225.0,354.4 L1224.9,356.1 L1224.8,357.8 L1224.7,359.5 L1224.6,361.2 L1224.4,362.9 L1224.3,364.6 L1224.1,366.3 L1224.0,368.0 L1223.8,369.6 L1223.6,371.3 L1223.4,373.0 L1223.2,374.7 L1223.0,376.4 L1222.8,378.1 L1222.6,379.8 L1222.5,381.5 L1222.4,383.2 L1222.3,384.8 L1222.2,386.5 L1222.1,388.2 L1222.1,389.9 L1222.0,391.7 L1221.9,393.4 L1221.9,395.0 L1221.8,396.7 L1221.7,398.4 L1221.6,400.0 L1221.5,401.8 L1221.3,403.6 L1221.2,405.3 L1221.0,407.0 L1220.8,408.7 L1220.6,410.4 L1220.5,412.1 L1220.3,413.9 L1220.1,415.6 L1219.9,417.4 L1219.7,419.1 L1219.5,420.9 L1219.3,422.7 L1219.1,424.4 L1218.9,426.2 L1218.7,428.0 L1218.5,429.8 L1218.3,431.6 L1218.1,433.3 L1217.9,435.0 L1217.7,436.6 L1217.5,438.3 L1217.3,440.0 L1217.1,441.7 L1216.9,443.4 L1216.6,445.1 L1216.4,446.8 L1216.2,448.5 L1216.0,450.2 L1215.7,451.9 L1215.5,453.6 L1215.2,455.3 L1215.0,456.9 L1214.7,458.6 L1214.5,460.3 L1214.2,462.0 L1214.0,463.7 L1213.8,465.4 L1213.6,467.1 L1213.4,468.8 L1213.3,470.5 L1213.2,472.2 L1213.0,473.9 L1212.9,475.6 L1212.7,477.4 L1212.6,479.1 L1212.4,480.8 L1212.2,482.5 L1212.0,484.2 L1211.7,486.0 L1211.4,487.8 L1211.2,489.5 L1210.9,491.3 L1210.6,493.0 L1210.3,494.8 L1210.0,496.5 L1209.7,498.3 L1209.4,500.0 L1209.1,501.8 L1208.8,503.6 L1208.5,505.4 L1208.2,507.2 L1207.9,509.0 L1207.6,510.7 L1207.3,512.5 L1207.0,514.3 L1206.7,516.1 L1206.4,517.8 L1206.1,519.4 L1205.8,521.1 L1205.5,522.8 L1205.2,524.5 L1204.9,526.1 L1204.6,527.8 L1204.3,529.5 L1204.1,531.1 L1203.8,532.8 L1203.5,534.6 L1203.3,536.4 L1203.1,538.2 L1202.9,539.9 L1202.7,541.7 L1202.5,543.5 L1202.2,545.3 L1202.0,547.0 L1201.7,548.8 L1201.4,550.6 L1201.1,552.4 L1200.7,554.1 L1200.4,555.9 L1200.0,557.7 L1199.6,559.5 L1199.2,561.3 L1198.7,563.0 L1198.2,564.8 L1197.7,566.4 L1197.1,568.1 L1196.5,569.7 L1195.9,571.3 L1195.3,572.9 L1194.7,574.5 L1194.0,576.2 L1193.4,577.8 L1192.8,579.5 L1192.3,581.2 L1191.8,582.9 L1191.4,584.6 L1191.0,586.3 L1190.6,588.1 L1190.2,589.8 L1189.8,591.6 L1189.5,593.4 L1189.1,595.1 L1188.7,596.8 L1188.3,598.4 L1187.9,600.0 L1187.4,601.7 L1186.9,603.4 L1186.4,605.0 L1185.9,606.6 L1185.4,608.2 L1184.9,609.8 L1184.3,611.4 L1183.8,613.1 L1183.3,614.7 L1182.8,616.3 L1182.3,617.9 L1181.8,619.6 L1181.3,621.2 L1180.8,622.9 L1180.3,624.6 L1179.8,626.3 L1179.4,627.9 L1178.9,629.6 L1178.4,631.4 L1178.0,633.2 L1177.6,635.0 L1177.2,636.8 L1176.8,638.5 L1176.4,640.3 L1175.9,642.1 L1175.4,643.9 L1174.9,645.6 L1174.4,647.2 L1173.8,648.7 L1173.2,650.3 L1172.6,651.8 L1172.0,653.4 L1171.3,654.9 L1170.6,656.4 L1169.9,657.9 L1169.2,659.4 L1168.5,660.9 L1167.8,662.4 L1167.0,663.8 L1166.2,665.3 L1165.4,666.7 L1164.6,668.2 L1163.8,669.6 L1163.0,671.0 L1162.1,672.5 L1161.3,673.9 L1160.4,675.3 L1159.5,676.8 L1158.6,678.2 L1157.6,679.7 L1156.6,681.1 L1155.7,682.5 L1154.7,684.0 L1153.7,685.4 L1152.7,686.8 L1151.7,688.3 L1150.8,689.7 L1149.8,691.3 L1148.9,692.9 L1148.0,694.5 L1147.1,696.1 L1146.3,697.8 L1145.3,699.3 L1144.3,700.8 L1143.2,702.1 L1142.0,703.3 L1140.6,704.5 L1139.0,705.7 L1137.3,706.8 L1135.6,707.8 L1133.8,708.6 L1132.0,709.3 L1130.2,709.7 L1128.5,709.8" stroke="#000" stroke-width="8.6" stroke-dasharray="9 7.95" stroke-dashoffset="-7.45"/>
<path d="M126.8,705.7 L128.4,705.8 L129.9,705.9 L131.5,706.0 L133.1,706.1 L134.7,706.2 L136.3,706.3 L137.9,706.4 L139.5,706.5 L141.2,706.6 L142.8,706.8 L144.4,706.9 L146.0,707.0 L147.6,707.1 L149.2,707.2 L150.8,707.3 L152.4,707.4 L154.0,707.5 L155.6,707.6 L157.2,707.7 L158.8,707.8 L160.4,707.9 L162.0,708.0 L163.5,708.1 L165.0,708.2 L166.6,708.3 L168.1,708.4 L169.6,708.5 L171.1,708.6 L172.6,708.7 L174.0,708.7 L175.5,708.8 L176.9,708.9 L178.7,709.0 L180.4,709.1 L182.1,709.2 L183.8,709.3 L185.5,709.3 L187.1,709.4 L188.7,709.5 L190.4,709.6 L192.0,709.6 L193.6,709.7 L195.1,709.8 L196.7,709.8 L198.3,709.9 L199.9,709.9 L201.4,710.0 L203.0,710.1 L204.6,710.1 L206.2,710.2 L207.8,710.2 L209.4,710.3 L211.0,710.3 L212.6,710.3 L214.3,710.4 L215.9,710.4 L217.5,710.4 L219.1,710.5 L220.8,710.5 L222.4,710.5 L224.0,710.5 L225.7,710.6 L227.3,710.6 L228.9,710.6 L230.5,710.6 L232.2,710.6 L233.8,710.6 L235.4,710.6 L237.1,710.7 L238.7,710.7 L240.3,710.7 L241.9,710.7 L243.6,710.7 L245.2,710.7 L246.8,710.7 L248.4,710.7 L250.1,710.7 L251.7,710.7 L253.3,710.7 L254.9,710.7 L256.6,710.7 L258.2,710.6 L259.8,710.6 L261.4,710.6 L263.1,710.6 L264.7,710.6 L266.3,710.6 L267.9,710.6 L269.6,710.6 L271.2,710.6 L272.8,710.6 L274.4,710.6 L276.1,710.6 L277.7,710.7 L279.3,710.7 L280.9,710.7 L282.6,710.8 L284.2,710.9 L285.8,710.9 L287.4,711.0 L289.1,711.1 L290.7,711.1 L292.3,711.2 L294.0,711.3 L295.6,711.4 L297.2,711.5 L298.8,711.6 L300.5,711.7 L302.1,711.8 L303.7,711.9 L305.4,712.0 L307.0,712.1 L308.6,712.2 L310.2,712.3 L311.9,712.4 L313.5,712.5 L315.1,712.6 L316.8,712.7 L318.4,712.8 L320.0,712.9 L321.6,713.0 L323.2,713.1 L324.9,713.2 L326.5,713.3 L328.1,713.4 L329.7,713.5 L331.4,713.6 L333.0,713.7 L334.6,713.8 L336.2,713.9 L337.9,714.1 L339.5,714.2 L341.1,714.3 L342.7,714.4 L344.4,714.5 L346.0,714.7 L347.6,714.8 L349.2,714.9 L350.8,715.1 L352.5,715.2 L354.1,715.3 L355.7,715.5 L357.3,715.6 L358.9,715.8 L360.5,715.9 L362.2,716.1 L363.8,716.2 L365.4,716.4 L367.0,716.5 L368.6,716.7 L370.3,716.8 L371.9,717.0 L373.5,717.1 L375.2,717.3 L376.8,717.5 L378.5,717.7 L380.1,717.8 L381.8,718.0 L383.3,718.2 L384.9,718.3 L386.4,718.5 L388.0,718.7 L389.5,718.9 L391.0,719.0 L392.6,719.2 L394.1,719.4 L395.6,719.6 L397.2,719.8 L398.7,720.0 L400.3,720.2 L401.9,720.3 L403.4,720.5 L405.0,720.7 L406.6,720.9 L408.2,721.1 L409.9,721.3 L411.5,721.5 L413.2,721.7 L414.8,721.9 L416.5,722.1 L418.3,722.3 L420.0,722.5 L421.4,722.7 L422.8,722.8 L424.2,723.0 L425.6,723.1 L427.1,723.3 L428.5,723.4 L430.0,723.6 L431.5,723.8 L432.9,723.9 L434.4,724.1 L435.9,724.2 L437.4,724.4 L438.9,724.6 L440.5,724.7 L442.0,724.9 L443.5,725.1 L445.1,725.2 L446.6,725.4 L448.2,725.6 L449.8,725.7 L451.3,725.9 L452.9,726.1 L454.5,726.2 L456.1,726.4 L457.7,726.6 L459.3,726.7 L460.8,726.9 L462.4,727.1 L464.0,727.2 L465.6,727.4 L467.3,727.6 L468.9,727.7 L470.5,727.9 L472.1,728.1 L473.7,728.3 L475.3,728.4 L476.9,728.6 L478.4,728.8 L479.9,728.9 L481.4,729.1 L483.0,729.2 L484.5,729.4 L486.1,729.6 L487.7,729.7 L489.3,729.9 L490.9,730.1 L492.5,730.3 L494.1,730.4 L495.7,730.6 L497.3,730.8 L499.0,730.9 L500.6,731.1 L502.3,731.3 L503.9,731.5 L505.6,731.6 L507.2,731.8 L508.8,732.0 L510.5,732.1 L512.1,732.3 L513.8,732.5 L515.4,732.7 L517.0,732.8 L518.6,733.0 L520.2,733.2 L521.8,733.3 L523.4,733.5 L525.0,733.7 L526.6,733.9 L528.1,734.0 L529.6,734.2 L531.1,734.3 L532.6,734.5 L534.1,734.7 L535.6,734.8 L537.0,735.0 L538.5,735.1 L539.9,735.3 L541.2,735.5 L542.6,735.6 L543.9,735.8 L545.2,735.9 L547.1,736.1 L548.9,736.3 L550.7,736.5 L552.5,736.8 L554.2,737.0 L555.9,737.2 L557.5,737.4 L559.2,737.6 L560.8,737.8 L562.3,738.0 L563.9,738.2 L565.5,738.4 L567.0,738.6 L568.5,738.7 L570.1,738.9 L571.6,739.1 L573.1,739.3 L574.7,739.5 L576.2,739.7 L577.7,739.8 L579.3,740.0 L581.0,740.2 L582.7,740.4 L584.5,740.6 L586.2,740.8 L587.9,741.0 L589.7,741.2 L591.4,741.4 L593.1,741.7 L594.8,741.8 L596.5,742.0 L598.1,742.2 L599.8,742.4 L601.4,742.5 L603.0,742.6 L604.5,742.7 L606.0,742.8 L607.5,742.8 L608.9,742.8 L610.9,742.7 L612.8,742.6 L614.5,742.5 L616.2,742.3 L617.9,742.1 L619.6,741.8 L621.3,741.5 L623.1,741.2 L624.9,740.9 L626.4,740.6 L627.9,740.2 L629.4,739.9 L631.0,739.4 L632.5,739.0 L634.1,738.5 L635.6,738.1 L637.2,737.6 L638.8,737.2 L640.5,736.8 L642.1,736.4 L643.7,736.1 L645.4,735.9 L647.0,735.7 L648.6,735.6 L650.2,735.5 L651.9,735.4 L653.6,735.4 L655.3,735.4 L657.0,735.4 L658.7,735.4 L660.4,735.5 L662.1,735.5 L663.7,735.6 L665.4,735.7 L667.1,735.7 L668.8,735.8 L670.4,735.9 L672.1,736.0 L673.7,736.1 L675.3,736.3 L676.9,736.5 L678.5,736.7 L680.1,736.9 L681.8,737.1 L683.4,737.3 L685.0,737.5 L686.6,737.7 L688.2,737.8 L689.9,738.0 L691.5,738.1 L693.2,738.2 L694.8,738.3 L696.5,738.3 L698.1,738.3 L699.8,738.3 L701.5,738.2 L703.2,738.2 L704.9,738.2 L706.6,738.1 L708.3,738.0 L710.0,738.0 L711.7,737.9 L713.4,737.9 L715.1,737.8 L716.7,737.8 L718.4,737.8 L720.0,737.8 L721.7,737.8 L723.4,737.9 L725.0,737.9 L726.7,738.0 L728.3,738.0 L729.9,738.1 L731.5,738.1 L733.1,738.2 L734.7,738.3 L736.3,738.4 L738.0,738.5 L739.6,738.5 L741.2,738.6 L742.8,738.7 L744.4,738.8 L746.0,738.9 L747.7,738.9 L749.3,739.0 L750.9,739.1 L752.5,739.2 L754.2,739.2 L755.8,739.3 L757.4,739.4 L759.0,739.5 L760.6,739.6 L762.3,739.7 L763.9,739.9 L765.5,740.0 L767.1,740.2 L768.7,740.3 L770.4,740.5 L772.0,740.7 L773.6,740.9 L775.2,741.0 L776.8,741.3 L778.4,741.5 L780.0,741.7 L781.6,741.9 L783.3,742.1 L784.9,742.3 L786.6,742.6 L788.3,742.8 L789.8,743.0 L791.4,743.2 L793.0,743.5 L794.5,743.7 L796.1,743.9 L797.7,744.1 L799.3,744.4 L800.9,744.6 L802.5,744.9 L804.2,745.1 L805.8,745.4 L807.4,745.6 L809.1,745.9 L810.7,746.1 L812.3,746.4 L814.0,746.6 L815.6,746.9 L817.1,747.1 L818.7,747.4 L820.2,747.6 L821.7,747.9 L823.3,748.1 L824.8,748.4 L826.3,748.6 L827.9,748.9 L829.4,749.1 L831.0,749.4 L832.5,749.6 L834.1,749.9 L835.7,750.2 L837.2,750.4 L838.8,750.7 L840.4,751.0 L842.0,751.3 L843.6,751.6 L845.2,751.9 L846.7,752.2 L848.2,752.5 L849.7,752.8 L851.3,753.1 L852.8,753.4 L854.3,753.7 L855.9,754.1 L857.4,754.4 L859.0,754.7 L860.5,755.1 L862.1,755.4 L863.7,755.8 L865.2,756.1 L866.8,756.4 L868.4,756.8 L869.9,757.1 L871.5,757.5 L873.1,757.8 L874.6,758.2 L876.2,758.5 L877.7,758.9 L879.3,759.2 L880.9,759.5 L882.4,759.9 L884.0,760.2 L885.5,760.5 L887.1,760.9 L888.6,761.2 L890.2,761.6 L891.7,761.9 L893.3,762.2 L894.8,762.6 L896.4,762.9 L898.0,763.3 L899.5,763.6 L901.1,763.9 L902.6,764.3 L904.2,764.6 L905.7,765.0 L907.3,765.3 L908.8,765.7 L910.4,766.0 L911.9,766.4 L913.5,766.7 L915.1,767.1 L916.6,767.4 L918.2,767.8 L919.7,768.1 L921.3,768.5 L922.9,768.8 L924.4,769.2 L926.0,769.5 L927.6,769.9 L929.1,770.3 L930.7,770.6 L932.3,771.0 L933.8,771.4 L935.4,771.7 L936.9,772.1 L938.5,772.4 L940.0,772.8 L941.6,773.2 L943.1,773.5 L944.6,773.9 L946.1,774.2 L947.6,774.6 L949.2,775.0 L950.8,775.4 L952.4,775.8 L954.0,776.2 L955.6,776.6 L957.2,777.0 L958.8,777.4 L960.4,777.8 L962.0,778.2 L963.5,778.7 L965.1,779.1 L966.7,779.4 L968.2,779.8 L969.7,780.2 L971.2,780.6 L972.8,780.9 L974.2,781.3 L975.7,781.6 L977.2,781.9 L978.9,782.2 L980.6,782.6 L982.2,782.9 L983.9,783.1 L985.5,783.4 L987.1,783.6 L988.7,783.9 L990.3,784.1 L991.9,784.4 L993.5,784.6 L995.1,784.9 L996.7,785.1 L998.3,785.4 L1000.0,785.7 L1001.6,786.0 L1003.1,786.3 L1004.7,786.6 L1006.3,787.0 L1007.8,787.3 L1009.4,787.6 L1011.0,788.0 L1012.6,788.3 L1014.2,788.7 L1015.8,789.0 L1017.4,789.4 L1019.0,789.7 L1020.6,790.0 L1022.3,790.4 L1023.9,790.7 L1025.5,791.0 L1027.1,791.3 L1028.7,791.6 L1030.3,791.8 L1031.9,792.0 L1033.5,792.3 L1035.1,792.5 L1036.7,792.7 L1038.3,792.9 L1040.0,793.2 L1041.6,793.4 L1043.2,793.6 L1044.9,793.9 L1046.5,794.2 L1048.1,794.5 L1049.8,794.9 L1051.4,795.3 L1053.1,795.7 L1054.6,796.1 L1056.1,796.6 L1057.6,797.1 L1059.2,797.6 L1060.7,798.1 L1062.2,798.7 L1063.8,799.3 L1065.4,799.9 L1066.9,800.5 L1068.5,801.1 L1070.0,801.7 L1071.6,802.3 L1073.1,803.0 L1074.7,803.6 L1076.2,804.2 L1077.7,804.8 L1079.2,805.4 L1080.7,806.0 L1082.1,806.6 L1083.6,807.1 L1085.0,807.6 L1086.7,808.2 L1088.3,808.8 L1089.9,809.4 L1091.5,810.0 L1093.1,810.6 L1094.7,811.2 L1096.2,811.8 L1097.7,812.4 L1099.3,812.9 L1100.8,813.4 L1102.3,813.9 L1103.8,814.3 L1105.3,814.7 L1106.8,815.1 L1108.3,815.4 L1110.1,815.7 L1112.0,816.0 L1113.8,816.3 L1115.7,816.5 L1117.5,816.6 L1119.3,816.7 L1121.0,816.8" stroke="#0000ff" stroke-width="8.6" stroke-dasharray="34.5 8 16.8 8"/>
<path d="M1121.0,816.8 L1122.8,816.7 L1124.4,816.6 L1126.0,816.5 L1127.5,816.2 L1129.5,815.7 L1131.3,814.9 L1133.0,814.1 L1134.7,813.1 L1136.3,812.1 L1138.0,811.0 L1139.5,810.0 L1141.0,809.0 L1142.6,808.0 L1144.1,806.8 L1145.7,805.7 L1147.1,804.5 L1148.4,803.2 L1149.6,801.9 L1150.6,800.5 L1151.5,799.0 L1152.3,797.5 L1153.0,796.0 L1153.7,794.4 L1154.5,792.7 L1155.5,791.1 L1156.4,789.9 L1157.3,788.6 L1158.3,787.4 L1159.4,786.1 L1160.5,784.8 L1161.6,783.5 L1162.8,782.2 L1163.9,780.8 L1165.0,779.4 L1166.1,778.0 L1167.2,776.5 L1168.2,775.0 L1169.0,773.7 L1169.8,772.4 L1170.5,771.0 L1171.3,769.6 L1172.0,768.2 L1172.8,766.7 L1173.5,765.2 L1174.2,763.7 L1174.9,762.2 L1175.6,760.7 L1176.3,759.2 L1177.0,757.6 L1177.7,756.1 L1178.4,754.5 L1179.1,753.0 L1179.7,751.5 L1180.4,750.0 L1181.1,748.5 L1181.7,747.0 L1182.4,745.5 L1183.0,744.0 L1183.7,742.4 L1184.3,740.9 L1184.9,739.4 L1185.5,737.9 L1186.1,736.3 L1186.8,734.8 L1187.4,733.3 L1188.0,731.8 L1188.6,730.2 L1189.2,728.7 L1189.7,727.2 L1190.3,725.7 L1190.9,724.2 L1191.5,722.7 L1192.1,721.2 L1192.6,719.8 L1193.2,718.3 L1193.7,716.9 L1194.3,715.5 L1194.8,714.1 L1195.4,712.6 L1195.9,711.2 L1196.4,709.7 L1197.0,708.2 L1197.5,706.7 L1198.0,705.1 L1198.6,703.5 L1199.1,701.8 L1199.7,700.0 L1200.1,698.7 L1200.5,697.5 L1200.9,696.1 L1201.3,694.8 L1201.7,693.4 L1202.1,692.0 L1202.5,690.6 L1202.9,689.2 L1203.3,687.7 L1203.7,686.2 L1204.1,684.7 L1204.5,683.2 L1204.9,681.6 L1205.3,680.1 L1205.7,678.5 L1206.1,676.9 L1206.5,675.4 L1206.9,673.8 L1207.3,672.2 L1207.7,670.6 L1208.1,669.0 L1208.5,667.4 L1208.9,665.7 L1209.3,664.1 L1209.7,662.5 L1210.1,660.9 L1210.5,659.3 L1210.9,657.8 L1211.3,656.2 L1211.7,654.6 L1212.1,653.1 L1212.5,651.5 L1212.9,650.0 L1213.3,648.5 L1213.7,647.0 L1214.1,645.5 L1214.5,644.1 L1214.9,642.6 L1215.3,641.2 L1215.6,639.7 L1216.0,638.3 L1216.4,636.9 L1216.8,635.4 L1217.2,634.0 L1217.6,632.6 L1218.0,631.1 L1218.4,629.7 L1218.8,628.3 L1219.2,626.8 L1219.6,625.4 L1219.9,623.9 L1220.3,622.5 L1220.7,621.0 L1221.1,619.5 L1221.5,618.0 L1221.9,616.5 L1222.2,614.9 L1222.6,613.4 L1223.0,611.8 L1223.3,610.2 L1223.7,608.6 L1224.1,606.9 L1224.4,605.2 L1224.8,603.5 L1225.1,601.8 L1225.5,600.0 L1225.7,598.7 L1226.0,597.5 L1226.2,596.2 L1226.5,594.9 L1226.7,593.6 L1227.0,592.2 L1227.2,590.9 L1227.4,589.5 L1227.7,588.1 L1227.9,586.8 L1228.1,585.4 L1228.4,584.0 L1228.6,582.5 L1228.9,581.1 L1229.1,579.7 L1229.3,578.2 L1229.5,576.7 L1229.8,575.3 L1230.0,573.8 L1230.2,572.3 L1230.5,570.8 L1230.7,569.3 L1230.9,567.8 L1231.1,566.2 L1231.4,564.7 L1231.6,563.2 L1231.8,561.6 L1232.0,560.1 L1232.3,558.5 L1232.5,556.9 L1232.7,555.4 L1232.9,553.8 L1233.1,552.2 L1233.3,550.6 L1233.6,549.0 L1233.8,547.4 L1234.0,545.9 L1234.2,544.3 L1234.4,542.7 L1234.6,541.1 L1234.8,539.5 L1235.0,537.9 L1235.2,536.3 L1235.4,534.6 L1235.6,533.0 L1235.8,531.4 L1236.1,529.8 L1236.3,528.2 L1236.5,526.6 L1236.7,525.0 L1236.8,523.4 L1237.0,521.9 L1237.2,520.3 L1237.4,518.7 L1237.6,517.1 L1237.8,515.5 L1238.0,513.9 L1238.2,512.4 L1238.4,510.8 L1238.6,509.2 L1238.8,507.7 L1239.0,506.1 L1239.1,504.6 L1239.3,503.0 L1239.5,501.5 L1239.7,500.0 L1239.9,498.5 L1240.1,496.9 L1240.2,495.4 L1240.4,493.9 L1240.6,492.3 L1240.8,490.8 L1241.0,489.2 L1241.1,487.7 L1241.3,486.2 L1241.5,484.6 L1241.7,483.1 L1241.8,481.6 L1242.0,480.0 L1242.2,478.5 L1242.3,476.9 L1242.5,475.4 L1242.7,473.9 L1242.8,472.3 L1243.0,470.8 L1243.2,469.3 L1243.3,467.7 L1243.5,466.2 L1243.6,464.6 L1243.8,463.1 L1243.9,461.6 L1244.1,460.0 L1244.3,458.5 L1244.4,456.9 L1244.6,455.4 L1244.7,453.9 L1244.9,452.3 L1245.0,450.8 L1245.2,449.3 L1245.3,447.7 L1245.5,446.2 L1245.6,444.6 L1245.8,443.1 L1245.9,441.6 L1246.0,440.0 L1246.2,438.5 L1246.3,436.9 L1246.5,435.4 L1246.6,433.9 L1246.7,432.3 L1246.9,430.8 L1247.0,429.2 L1247.2,427.7 L1247.3,426.2 L1247.4,424.6 L1247.6,423.1 L1247.7,421.6 L1247.8,420.0 L1248.0,418.5 L1248.1,416.9 L1248.2,415.4 L1248.4,413.9 L1248.5,412.3 L1248.6,410.8 L1248.7,409.2 L1248.9,407.7 L1249.0,406.2 L1249.1,404.6 L1249.3,403.1 L1249.4,401.5 L1249.5,400.0 L1249.6,398.5 L1249.7,396.9 L1249.9,395.4 L1250.0,393.9 L1250.1,392.3 L1250.2,390.8 L1250.3,389.2 L1250.5,387.7 L1250.6,386.2 L1250.7,384.6 L1250.8,383.1 L1250.9,381.5 L1251.0,380.0 L1251.1,378.5 L1251.2,376.9 L1251.3,375.4 L1251.4,373.9 L1251.5,372.3 L1251.6,370.8 L1251.7,369.2 L1251.8,367.7 L1251.9,366.2 L1252.0,364.6 L1252.1,363.1 L1252.2,361.6 L1252.3,360.0 L1252.4,358.5 L1252.5,356.9 L1252.6,355.4 L1252.7,353.9 L1252.8,352.3 L1252.9,350.8 L1253.0,349.2 L1253.1,347.7 L1253.2,346.2 L1253.3,344.6 L1253.4,343.1 L1253.5,341.5 L1253.6,340.0 L1253.6,338.5 L1253.7,336.9 L1253.8,335.4 L1253.9,333.9 L1254.0,332.3 L1254.1,330.8 L1254.2,329.2 L1254.3,327.7 L1254.3,326.2 L1254.4,324.6 L1254.5,323.1 L1254.6,321.5 L1254.7,320.0 L1254.8,318.5 L1254.9,316.9 L1254.9,315.4 L1255.0,313.8 L1255.1,312.3 L1255.2,310.8 L1255.3,309.2 L1255.4,307.7 L1255.5,306.2 L1255.5,304.6 L1255.6,303.1 L1255.7,301.5 L1255.8,300.0 L1255.9,298.5 L1256.0,296.9 L1256.1,295.4 L1256.1,293.8 L1256.2,292.3 L1256.3,290.8 L1256.4,289.2 L1256.5,287.7 L1256.5,286.1 L1256.6,284.6 L1256.7,283.0 L1256.8,281.5 L1256.9,279.9 L1256.9,278.4 L1257.0,276.8 L1257.1,275.3 L1257.2,273.7 L1257.2,272.2 L1257.3,270.6 L1257.4,269.1 L1257.5,267.5 L1257.5,266.0 L1257.6,264.4 L1257.7,262.9 L1257.8,261.3 L1257.8,259.8 L1257.9,258.2 L1258.0,256.6 L1258.1,255.1 L1258.1,253.5 L1258.2,252.0 L1258.3,250.4 L1258.3,248.9 L1258.4,247.4 L1258.5,245.8 L1258.6,244.3 L1258.6,242.7 L1258.7,241.2 L1258.8,239.6 L1258.8,238.1 L1258.9,236.5 L1259.0,235.0 L1259.0,233.5 L1259.1,231.9 L1259.2,230.4 L1259.3,228.8 L1259.3,227.3 L1259.4,225.8 L1259.5,224.2 L1259.5,222.7 L1259.6,221.2 L1259.7,219.7 L1259.7,218.1 L1259.8,216.6 L1259.9,215.1 L1260.0,213.6 L1260.0,212.1 L1260.1,210.5 L1260.2,209.0 L1260.2,207.5 L1260.3,206.0 L1260.4,204.5 L1260.5,203.0 L1260.5,201.5 L1260.6,200.0 L1260.7,198.4 L1260.8,196.9 L1260.8,195.3 L1260.9,193.7 L1261.0,192.2 L1261.1,190.6 L1261.1,189.0 L1261.2,187.5 L1261.3,185.9 L1261.4,184.3 L1261.5,182.8 L1261.5,181.2 L1261.6,179.6 L1261.7,178.1 L1261.8,176.5 L1261.9,174.9 L1261.9,173.4 L1262.0,171.8 L1262.1,170.3 L1262.2,168.7 L1262.3,167.2 L1262.3,165.6 L1262.4,164.0 L1262.5,162.5 L1262.6,160.9 L1262.7,159.4 L1262.7,157.9 L1262.8,156.3 L1262.9,154.8 L1263.0,153.2 L1263.1,151.7 L1263.1,150.2 L1263.2,148.6 L1263.3,147.1 L1263.4,145.6 L1263.4,144.0 L1263.5,142.5 L1263.6,141.0 L1263.7,139.5 L1263.7,138.0 L1263.8,136.5 L1263.9,135.0 L1264.0,133.5 L1264.0,132.0 L1264.1,130.5 L1264.2,129.0 L1264.2,127.5 L1264.3,126.0 L1264.4,124.5 L1264.4,123.1 L1264.5,121.6 L1264.6,120.1 L1264.6,118.7 L1264.7,117.2 L1264.8,115.8 L1264.8,114.3 L1264.9,112.9 L1264.9,111.4 L1265.0,110.0 L1265.1,108.3 L1265.1,106.7 L1265.2,105.0 L1265.3,103.3 L1265.3,101.6 L1265.4,99.9 L1265.4,98.2 L1265.5,96.5 L1265.6,94.8 L1265.6,93.0 L1265.7,91.3 L1265.7,89.6 L1265.8,87.9 L1265.9,86.2 L1265.9,84.4 L1266.0,82.7 L1266.0,81.0 L1266.1,79.3 L1266.1,77.6 L1266.2,76.0 L1266.2,74.3 L1266.3,72.6 L1266.3,71.0 L1266.4,69.3 L1266.4,67.7 L1266.5,66.1 L1266.5,64.5 L1266.6,63.0 L1266.6,61.4 L1266.7,59.9 L1266.7,58.4 L1266.7,56.9 L1266.8,55.4 L1266.8,54.0 L1266.9,52.5 L1266.9,51.1 L1266.9,49.8 L1267.0,48.4 L1267.0,47.1 L1267.0,45.9 L1267.1,44.6 L1267.1,43.4 L1267.1,42.2 L1267.2,41.1 L1267.2,40.0 L1267.3,37.9 L1267.3,36.0 L1267.3,34.1 L1267.4,32.4 L1267.4,30.8 L1267.4,29.2 L1267.5,27.7 L1267.5,26.2 L1267.5,24.7 L1267.5,23.2 L1267.6,21.6 L1267.6,20.0" stroke="#0000ff" stroke-width="8.6" stroke-dasharray="34.5 8 16.8 8" stroke-dashoffset="1004.13"/>
</g>
<text transform="translate(112,948.00) scale(1,1.065)" text-anchor="end" class="t">0</text>
<text transform="translate(112,857.75) scale(1,1.065)" text-anchor="end" class="t">0.1</text>
<text transform="translate(112,767.50) scale(1,1.065)" text-anchor="end" class="t">0.2</text>
<text transform="translate(112,677.25) scale(1,1.065)" text-anchor="end" class="t">0.3</text>
<text transform="translate(112,587.00) scale(1,1.065)" text-anchor="end" class="t">0.4</text>
<text transform="translate(112,496.75) scale(1,1.065)" text-anchor="end" class="t">0.5</text>
<text transform="translate(112,406.50) scale(1,1.065)" text-anchor="end" class="t">0.6</text>
<text transform="translate(112,316.25) scale(1,1.065)" text-anchor="end" class="t">0.7</text>
<text transform="translate(112,226.00) scale(1,1.065)" text-anchor="end" class="t">0.8</text>
<text transform="translate(112,135.75) scale(1,1.065)" text-anchor="end" class="t">0.9</text>
<text transform="translate(112,45.50) scale(1,1.065)" text-anchor="end" class="t">1</text>
<text transform="translate(127.00,981.6) scale(1,1.065)" text-anchor="middle" class="t">900</text>
<text transform="translate(331.64,981.6) scale(1,1.065)" text-anchor="middle" class="t">1000</text>
<text transform="translate(536.29,981.6) scale(1,1.065)" text-anchor="middle" class="t">1100</text>
<text transform="translate(740.93,981.6) scale(1,1.065)" text-anchor="middle" class="t">1200</text>
<text transform="translate(945.57,981.6) scale(1,1.065)" text-anchor="middle" class="t">1300</text>
<text transform="translate(1150.21,981.6) scale(1,1.065)" text-anchor="middle" class="t">1400</text>
<text x="699.5" y="1027.6" text-anchor="middle" class="l">Wavelength [nm]</text>
<text transform="translate(50,484) rotate(-90)" text-anchor="middle" class="l">Ratio (kL/<tspan font-size="43">Δ</tspan><tspan dx="2.5"> n</tspan><tspan dx="1.5"> L)</tspan></text>
<text x="652" y="1100.8" text-anchor="middle" class="c">(<tspan font-weight="bold">b</tspan>)</text>
<rect x="950.4" y="85.2" width="218.6" height="229.6" fill="#fff" stroke="#262626" stroke-width="1.9"/>
<text transform="translate(1048,119.6) scale(0.985,1)" class="g">Water</text>
<text transform="translate(1048,156.5) scale(0.985,1)" class="g">PA-R</text>
<text transform="translate(1048,192.8) scale(0.985,1)" class="g">LDPE-R</text>
<text transform="translate(1048,228.9) scale(0.985,1)" class="g">PET-R</text>
<text transform="translate(1048,265.6) scale(0.985,1)" class="g">PP-R</text>
<text transform="translate(1048,302.4) scale(0.985,1)" class="g">PS-R</text>
<line x1="960.8" y1="107.9" x2="1039.4" y2="107.9" stroke="#ff0000" stroke-width="5.3"/>
<line x1="960.8" y1="144.6" x2="1039.4" y2="144.6" stroke="#000" stroke-width="5.3"/>
<line x1="960.8" y1="181.3" x2="1039.4" y2="181.3" stroke="#0000ff" stroke-width="5.3"/>
<line x1="960.8" y1="217.8" x2="1039.4" y2="217.8" stroke="#00ff00" stroke-width="5.3"/>
<rect x="960.5" y="250.9" width="8.2" height="7.8" fill="#000"/>
<rect x="977.3" y="250.9" width="8.8" height="7.8" fill="#000"/>
<rect x="995" y="250.9" width="8.2" height="7.8" fill="#000"/>
<rect x="1011.4" y="250.9" width="8.2" height="7.8" fill="#000"/>
<rect x="1028.4" y="250.9" width="8.4" height="7.8" fill="#000"/>
<rect x="960.5" y="287.8" width="34.0" height="7.8" fill="#0000ff"/>
<rect x="1002.8" y="287.8" width="16.4" height="7.8" fill="#0000ff"/>
<rect x="1028.4" y="287.8" width="11.0" height="7.8" fill="#0000ff"/>
</g>
</svg>
</body></html>
